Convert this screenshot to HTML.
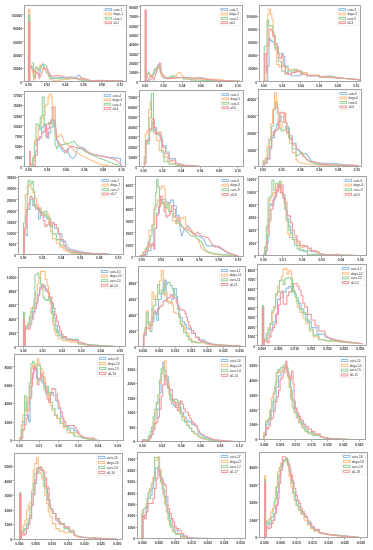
<!DOCTYPE html>
<html><head><meta charset="utf-8"><style>
html,body{margin:0;padding:0;background:#fff;}
svg{display:block;}
g.t{filter:grayscale(1)}
text.l{font-size:3.75px}
text{font-family:"Liberation Sans",sans-serif;font-weight:bold;font-size:3.30px;fill:#333;}
</style></head><body>
<svg width="373" height="550" viewBox="0 0 373 550">
<clipPath id="c1"><rect x="24.5" y="5.5" width="102.0" height="76.5"/></clipPath>
<g clip-path="url(#c1)"><polyline points="30.8,64.7 32.7,67.4 35.4,71.4 38.1,74.1 39.4,75.5 41.4,66.1 42.8,63.4 44.8,68.8 46.8,72.8 48.8,74.1 50.8,76.8 54.2,78.2 59.5,77.5 64.9,77.5 70.2,76.8 76.0,77.5" fill="none" stroke="#94bfe1" stroke-width="1.10" stroke-linejoin="miter"/><polyline points="76.0,77.5 77.2,76.5 78.8,74.9 80.5,76.5 82.1,79.8 86.1,80.2 94.1,80.6 110.2,80.9 123.1,81.0" fill="none" stroke="#94bfe1" stroke-width="1.10" stroke-linejoin="miter"/><polyline points="30.8,65.8 31.4,66.1 32.7,71.4 34.0,80.8 35.4,68.8 36.7,66.8 38.7,72.8 40.1,64.7 41.4,67.4 42.8,68.8 44.8,69.4 46.8,71.4 48.8,76.8 50.8,79.5 52.8,80.2 58.2,80.2 66.2,79.5 71.6,78.8 76.0,78.4" fill="none" stroke="#ffbf88" stroke-width="1.10" stroke-linejoin="miter"/><polyline points="76.0,78.4 76.4,78.6 79.7,79.3 86.1,79.0 90.9,80.6 102.2,80.6 123.1,81.0" fill="none" stroke="#ffbf88" stroke-width="1.10" stroke-linejoin="miter"/><rect x="27.9" y="8.8" width="2.4" height="72.7" fill="#ffbf88"/><polyline points="31.4,62.7 33.4,62.7 33.8,78.2 35.4,78.2 35.7,67.4 37.4,67.4 38.7,70.1 40.7,66.8 42.8,65.4 44.8,64.7 46.8,66.1 48.1,72.8 50.1,78.2 52.8,78.8 55.5,78.2 59.5,78.8 66.2,78.8 71.6,78.2 76.0,77.9" fill="none" stroke="#9ad29a" stroke-width="1.10" stroke-linejoin="miter"/><polyline points="76.0,77.9 79.7,80.1 86.1,80.2 92.5,80.6 102.2,80.2 123.1,81.0" fill="none" stroke="#9ad29a" stroke-width="1.10" stroke-linejoin="miter"/><rect x="27.9" y="14.7" width="2.4" height="66.8" fill="#9ad29a"/><polyline points="30.8,66.1 32.7,70.1 35.4,72.1 38.1,73.5 39.4,78.2 40.7,76.1 42.8,70.1 44.1,67.4 46.1,68.8 47.4,68.8 48.8,72.8 50.8,75.5 54.2,76.1 58.2,75.5 62.2,76.1 66.2,77.5 71.6,78.2 76.0,78.4" fill="none" stroke="#ef9a9c" stroke-width="1.10" stroke-linejoin="miter"/><polyline points="76.0,78.4 76.4,79.0 81.3,78.1 84.5,78.6 89.3,80.2 102.2,80.6 123.1,81.0" fill="none" stroke="#ef9a9c" stroke-width="1.10" stroke-linejoin="miter"/><rect x="27.9" y="22.0" width="2.4" height="59.5" fill="#ef9a9c"/></g>
<rect x="24.5" y="5.5" width="102.0" height="76.0" fill="none" stroke="#a3a3a3" stroke-width="1"/>
<line x1="28.5" y1="82.0" x2="28.5" y2="83.7" stroke="#b5b5b5" stroke-width="1"/>
<line x1="46.5" y1="82.0" x2="46.5" y2="83.7" stroke="#b5b5b5" stroke-width="1"/>
<line x1="65.5" y1="82.0" x2="65.5" y2="83.7" stroke="#b5b5b5" stroke-width="1"/>
<line x1="83.5" y1="82.0" x2="83.5" y2="83.7" stroke="#b5b5b5" stroke-width="1"/>
<line x1="101.5" y1="82.0" x2="101.5" y2="83.7" stroke="#b5b5b5" stroke-width="1"/>
<line x1="120.5" y1="82.0" x2="120.5" y2="83.7" stroke="#b5b5b5" stroke-width="1"/>
<line x1="22.3" y1="81.5" x2="24.0" y2="81.5" stroke="#b5b5b5" stroke-width="1"/>
<line x1="22.3" y1="68.5" x2="24.0" y2="68.5" stroke="#b5b5b5" stroke-width="1"/>
<line x1="22.3" y1="54.5" x2="24.0" y2="54.5" stroke="#b5b5b5" stroke-width="1"/>
<line x1="22.3" y1="41.5" x2="24.0" y2="41.5" stroke="#b5b5b5" stroke-width="1"/>
<line x1="22.3" y1="28.5" x2="24.0" y2="28.5" stroke="#b5b5b5" stroke-width="1"/>
<line x1="22.3" y1="14.5" x2="24.0" y2="14.5" stroke="#b5b5b5" stroke-width="1"/>
<rect x="103.3" y="6.7" width="21.2" height="18.8" rx="0.6" fill="#fff" fill-opacity="0.8" stroke="#e4e4e4" stroke-width="0.5"/>
<rect x="105.20" y="8.61" width="6.3" height="1.78" fill="none" stroke="#94bfe1" stroke-width="1"/>
<rect x="105.20" y="13.02" width="6.3" height="1.78" fill="none" stroke="#ffbf88" stroke-width="1"/>
<rect x="105.20" y="17.42" width="6.3" height="1.78" fill="none" stroke="#9ad29a" stroke-width="1"/>
<rect x="105.20" y="21.83" width="6.3" height="1.78" fill="none" stroke="#ef9a9c" stroke-width="1"/>
<clipPath id="c2"><rect x="140.5" y="5.5" width="102.0" height="76.5"/></clipPath>
<g clip-path="url(#c2)"><polyline points="146.8,80.7 150.6,79.7 152.7,76.4 154.9,72.2 157.0,67.9 158.1,64.7 159.7,65.7 160.8,73.2 163.4,78.1 167.7,78.1 173.1,77.0 178.5,77.5" fill="none" stroke="#94bfe1" stroke-width="1.10" stroke-linejoin="miter"/><polyline points="178.5,77.5 187.5,77.5 195.0,78.5 202.5,77.9 208.1,79.4 217.5,80.3 240.0,81.3" fill="none" stroke="#94bfe1" stroke-width="1.10" stroke-linejoin="miter"/><polyline points="146.8,76.4 148.4,72.2 150.0,74.3 151.7,78.6 153.3,74.3 154.9,68.9 157.0,70.0 158.6,65.7 160.2,71.1 161.8,76.4 163.4,77.5 166.7,78.6 171.0,78.6 174.2,77.5 177.4,74.3 179.0,72.2 180.6,73.2 182.0,74.8" fill="none" stroke="#ffbf88" stroke-width="1.10" stroke-linejoin="miter"/><polyline points="182.0,74.8 183.8,78.5 191.3,79.4 198.8,79.0 206.3,79.4 213.8,79.4 221.3,79.8 225.0,80.3 240.0,81.3" fill="none" stroke="#ffbf88" stroke-width="1.10" stroke-linejoin="miter"/><polyline points="146.8,78.6 148.4,72.2 150.0,74.3 151.7,76.4 153.3,73.2 154.9,68.9 156.5,67.9 158.1,65.7 159.2,66.8 160.8,72.2 162.4,74.3 164.5,76.4 166.7,77.5 169.9,77.0 172.6,75.4 174.2,76.4 177.4,78.1 182.0,77.5" fill="none" stroke="#9ad29a" stroke-width="1.10" stroke-linejoin="miter"/><polyline points="182.0,77.5 183.8,79.4 187.5,78.5 191.3,80.3 198.8,80.3 217.5,80.9 240.0,81.3" fill="none" stroke="#9ad29a" stroke-width="1.10" stroke-linejoin="miter"/><polyline points="146.8,80.7 148.4,79.7 150.6,75.4 152.2,76.4 153.8,80.2 155.4,75.4 157.0,70.0 158.6,66.8 159.7,63.0 160.8,63.6 161.3,72.2 162.9,75.4 164.5,76.4 166.7,78.1 168.8,78.6 172.0,78.1 175.2,78.1 178.5,77.5 182.0,77.5" fill="none" stroke="#ef9a9c" stroke-width="1.10" stroke-linejoin="miter"/><polyline points="182.0,77.5 185.6,77.5 191.3,78.5 196.9,77.5 202.5,78.5 208.1,79.4 217.5,80.3 240.0,81.3" fill="none" stroke="#ef9a9c" stroke-width="1.10" stroke-linejoin="miter"/><rect x="144.5" y="9.5" width="2.3" height="72.0" fill="#ef9a9c"/></g>
<rect x="140.5" y="5.5" width="102.0" height="76.0" fill="none" stroke="#a3a3a3" stroke-width="1"/>
<line x1="145.5" y1="82.0" x2="145.5" y2="83.7" stroke="#b5b5b5" stroke-width="1"/>
<line x1="163.5" y1="82.0" x2="163.5" y2="83.7" stroke="#b5b5b5" stroke-width="1"/>
<line x1="182.5" y1="82.0" x2="182.5" y2="83.7" stroke="#b5b5b5" stroke-width="1"/>
<line x1="200.5" y1="82.0" x2="200.5" y2="83.7" stroke="#b5b5b5" stroke-width="1"/>
<line x1="219.5" y1="82.0" x2="219.5" y2="83.7" stroke="#b5b5b5" stroke-width="1"/>
<line x1="237.5" y1="82.0" x2="237.5" y2="83.7" stroke="#b5b5b5" stroke-width="1"/>
<line x1="138.3" y1="81.5" x2="140.0" y2="81.5" stroke="#b5b5b5" stroke-width="1"/>
<line x1="138.3" y1="72.5" x2="140.0" y2="72.5" stroke="#b5b5b5" stroke-width="1"/>
<line x1="138.3" y1="62.5" x2="140.0" y2="62.5" stroke="#b5b5b5" stroke-width="1"/>
<line x1="138.3" y1="53.5" x2="140.0" y2="53.5" stroke="#b5b5b5" stroke-width="1"/>
<line x1="138.3" y1="44.5" x2="140.0" y2="44.5" stroke="#b5b5b5" stroke-width="1"/>
<line x1="138.3" y1="34.5" x2="140.0" y2="34.5" stroke="#b5b5b5" stroke-width="1"/>
<line x1="138.3" y1="25.5" x2="140.0" y2="25.5" stroke="#b5b5b5" stroke-width="1"/>
<line x1="138.3" y1="16.5" x2="140.0" y2="16.5" stroke="#b5b5b5" stroke-width="1"/>
<line x1="138.3" y1="6.5" x2="140.0" y2="6.5" stroke="#b5b5b5" stroke-width="1"/>
<rect x="219.3" y="6.7" width="21.2" height="18.8" rx="0.6" fill="#fff" fill-opacity="0.8" stroke="#e4e4e4" stroke-width="0.5"/>
<rect x="221.20" y="8.61" width="6.3" height="1.78" fill="none" stroke="#94bfe1" stroke-width="1"/>
<rect x="221.20" y="13.02" width="6.3" height="1.78" fill="none" stroke="#ffbf88" stroke-width="1"/>
<rect x="221.20" y="17.42" width="6.3" height="1.78" fill="none" stroke="#9ad29a" stroke-width="1"/>
<rect x="221.20" y="21.83" width="6.3" height="1.78" fill="none" stroke="#ef9a9c" stroke-width="1"/>
<clipPath id="c3"><rect x="259.5" y="5.5" width="101.0" height="76.5"/></clipPath>
<g clip-path="url(#c3)"><polyline points="265.4,81.5 265.4,80.6 267.8,80.6 267.8,66.1 269.0,66.1 269.0,38.8 270.3,38.8 270.3,40.4 271.9,40.4 271.9,42.0 275.1,42.0 275.1,46.8 278.3,46.8 278.3,53.3 283.1,53.3 283.1,56.5 284.7,56.5 284.7,66.1 288.0,66.1 288.0,74.2 291.2,74.2 291.2,75.8 296.0,75.8 296.0,75.8 300.8,75.8 300.8,74.2 307.3,74.2 307.3,75.8 319.0,75.8 319.0,76.9" fill="none" stroke="#94bfe1" stroke-width="1.10" stroke-linejoin="miter"/><polyline points="319.0,76.9 330.0,77.2 337.5,77.9 345.0,78.5 361.9,80.0" fill="none" stroke="#94bfe1" stroke-width="1.10" stroke-linejoin="miter"/><polyline points="264.3,81.5 264.3,80.6 266.2,80.6 266.2,53.3 267.8,53.3 267.8,13.8 269.0,13.8 269.0,9.0 270.6,9.0 270.6,14.7 271.9,14.7 271.9,19.5 273.2,19.5 273.2,37.2 275.1,37.2 275.1,50.0 276.7,50.0 276.7,64.5 279.1,64.5 279.1,66.9 281.5,66.9 281.5,66.1 284.7,66.1 284.7,67.7 288.0,67.7 288.0,69.3 294.4,69.3 294.4,70.9 300.8,70.9 300.8,72.6 307.3,72.6 307.3,75.0 319.0,75.0 319.0,76.6" fill="none" stroke="#ffbf88" stroke-width="1.10" stroke-linejoin="miter"/><polyline points="319.0,76.6 322.5,77.0 330.0,77.2 337.5,77.9 345.0,78.5 361.9,80.0" fill="none" stroke="#ffbf88" stroke-width="1.10" stroke-linejoin="miter"/><polyline points="264.3,81.5 264.3,46.0 267.0,46.0 267.0,20.3 268.7,20.3 268.7,25.9 271.9,25.9 271.9,25.9 272.7,25.9 272.7,33.1 274.3,33.1 274.3,45.2 275.9,45.2 275.9,48.4 278.3,48.4 278.3,61.3 281.5,61.3 281.5,70.9 284.7,70.9 284.7,74.2 288.0,74.2 288.0,70.9 294.4,70.9 294.4,69.3 297.6,69.3 297.6,71.8 302.4,71.8 302.4,74.2 307.3,74.2 307.3,75.8 319.0,75.8 319.0,76.9" fill="none" stroke="#9ad29a" stroke-width="1.10" stroke-linejoin="miter"/><polyline points="319.0,76.9 330.0,75.7 337.5,77.5 345.0,78.5 361.9,80.0" fill="none" stroke="#9ad29a" stroke-width="1.10" stroke-linejoin="miter"/><polyline points="264.3,81.5 264.3,54.1 266.2,54.1 266.2,72.6 267.0,72.6 267.0,45.2 269.0,45.2 269.0,29.1 271.1,29.1 271.1,30.7 272.7,30.7 272.7,35.6 275.1,35.6 275.1,43.6 277.5,43.6 277.5,53.3 279.1,53.3 279.1,58.1 281.5,58.1 281.5,54.9 283.1,54.9 283.1,66.1 285.5,66.1 285.5,72.6 288.0,72.6 288.0,74.2 291.2,74.2 291.2,72.6 296.0,72.6 296.0,70.9 300.8,70.9 300.8,74.2 307.3,74.2 307.3,75.8 319.0,75.8 319.0,77.1" fill="none" stroke="#ef9a9c" stroke-width="1.10" stroke-linejoin="miter"/><polyline points="319.0,77.1 322.5,76.6 330.0,77.2 337.5,77.9 345.0,78.5 361.9,80.0" fill="none" stroke="#ef9a9c" stroke-width="1.10" stroke-linejoin="miter"/></g>
<rect x="259.5" y="5.5" width="101.0" height="76.0" fill="none" stroke="#a3a3a3" stroke-width="1"/>
<line x1="263.5" y1="82.0" x2="263.5" y2="83.7" stroke="#b5b5b5" stroke-width="1"/>
<line x1="282.5" y1="82.0" x2="282.5" y2="83.7" stroke="#b5b5b5" stroke-width="1"/>
<line x1="300.5" y1="82.0" x2="300.5" y2="83.7" stroke="#b5b5b5" stroke-width="1"/>
<line x1="319.5" y1="82.0" x2="319.5" y2="83.7" stroke="#b5b5b5" stroke-width="1"/>
<line x1="337.5" y1="82.0" x2="337.5" y2="83.7" stroke="#b5b5b5" stroke-width="1"/>
<line x1="356.5" y1="82.0" x2="356.5" y2="83.7" stroke="#b5b5b5" stroke-width="1"/>
<line x1="257.3" y1="81.5" x2="259.0" y2="81.5" stroke="#b5b5b5" stroke-width="1"/>
<line x1="257.3" y1="68.5" x2="259.0" y2="68.5" stroke="#b5b5b5" stroke-width="1"/>
<line x1="257.3" y1="55.5" x2="259.0" y2="55.5" stroke="#b5b5b5" stroke-width="1"/>
<line x1="257.3" y1="42.5" x2="259.0" y2="42.5" stroke="#b5b5b5" stroke-width="1"/>
<line x1="257.3" y1="29.5" x2="259.0" y2="29.5" stroke="#b5b5b5" stroke-width="1"/>
<line x1="257.3" y1="16.5" x2="259.0" y2="16.5" stroke="#b5b5b5" stroke-width="1"/>
<rect x="337.3" y="6.7" width="21.2" height="18.8" rx="0.6" fill="#fff" fill-opacity="0.8" stroke="#e4e4e4" stroke-width="0.5"/>
<rect x="339.20" y="8.61" width="6.3" height="1.78" fill="none" stroke="#94bfe1" stroke-width="1"/>
<rect x="339.20" y="13.02" width="6.3" height="1.78" fill="none" stroke="#ffbf88" stroke-width="1"/>
<rect x="339.20" y="17.42" width="6.3" height="1.78" fill="none" stroke="#9ad29a" stroke-width="1"/>
<rect x="339.20" y="21.83" width="6.3" height="1.78" fill="none" stroke="#ef9a9c" stroke-width="1"/>
<clipPath id="c4"><rect x="24.5" y="91.5" width="101.0" height="75.5"/></clipPath>
<g clip-path="url(#c4)"><polyline points="31.7,166.5 31.7,166.6 33.1,166.6 33.1,160.9 35.2,160.9 35.2,151.0 37.3,151.0 37.3,139.6 39.5,139.6 39.5,136.8 41.6,136.8 41.6,126.9 43.7,126.9 43.7,124.0 45.9,124.0 45.9,136.8 47.3,136.8 47.3,138.2 48.7,138.2 48.7,132.6 50.8,132.6 50.8,126.9 53.0,126.9 53.0,119.8 54.4,119.8 54.4,126.9" fill="none" stroke="#94bfe1" stroke-width="1.10" stroke-linejoin="miter"/><polyline points="54.4,126.9 55.0,125.8 56.9,141.2 58.9,145.1 62.7,150.9 64.7,152.8 67.5,149.0 69.5,155.7 72.4,158.6 75.3,156.7 77.2,149.0 80.1,147.0 84.0,148.0 87.8,151.9 93.6,154.7 101.3,155.7 109.1,157.6 114.8,157.6 120.6,158.6 121.0,166.5" fill="none" stroke="#94bfe1" stroke-width="1.10" stroke-linejoin="miter"/><polyline points="31.0,166.5 31.0,163.8 33.1,163.8 33.1,156.7 34.5,156.7 34.5,141.1 36.6,141.1 36.6,138.2 38.1,138.2 38.1,126.9 40.2,126.9 40.2,124.0 41.6,124.0 41.6,118.4 43.7,118.4 43.7,114.8 45.1,114.8 45.1,105.6 46.6,105.6 46.6,104.2 48.0,104.2 48.0,97.1 49.4,97.1 49.4,94.3 51.5,94.3 51.5,97.1 52.2,97.1 52.2,108.4 53.7,108.4 53.7,122.6 55.1,122.6 55.1,132.6" fill="none" stroke="#ffbf88" stroke-width="1.10" stroke-linejoin="miter"/><polyline points="55.1,132.6 57.9,137.4 59.8,134.5 61.8,134.5 63.7,141.2 66.6,144.1 70.4,146.1 74.3,150.9 80.1,154.7 85.9,157.6 93.6,161.5 101.3,164.4 109.1,165.9 120.6,166.5" fill="none" stroke="#ffbf88" stroke-width="1.10" stroke-linejoin="miter"/><polyline points="30.3,166.5 30.3,165.2 32.4,165.2 32.4,158.1 34.5,158.1 34.5,145.3 35.9,145.3 35.9,124.0 38.1,124.0 38.1,125.5 39.5,125.5 39.5,129.7 40.2,129.7 40.2,117.0 41.6,117.0 41.6,115.5 42.3,115.5 42.3,97.1 44.2,97.1 44.2,125.5 46.6,125.5 46.6,124.0 48.7,124.0 48.7,122.6 50.1,122.6 50.1,124.0 51.5,124.0 51.5,120.5 53.7,120.5 53.7,126.9 55.1,126.9 55.1,143.9" fill="none" stroke="#9ad29a" stroke-width="1.10" stroke-linejoin="miter"/><polyline points="55.1,143.9 56.9,149.0 58.9,143.2 60.8,145.1 64.7,144.1 68.5,143.2 72.4,142.2 74.3,141.2 76.2,144.1 80.1,148.0 85.9,151.9 93.6,155.7 103.3,159.6 112.9,163.4 120.6,166.3" fill="none" stroke="#9ad29a" stroke-width="1.10" stroke-linejoin="miter"/><polyline points="31.0,166.5 31.0,166.6 33.1,166.6 33.1,165.2 35.2,165.2 35.2,155.2 37.3,155.2 37.3,139.6 39.5,139.6 39.5,138.2 41.6,138.2 41.6,132.6 43.7,132.6 43.7,131.1 45.1,131.1 45.1,125.5 46.6,125.5 46.6,136.8 48.0,136.8 48.0,128.3 49.4,128.3 49.4,124.0 50.8,124.0 50.8,119.8 52.2,119.8 52.2,107.0 53.7,107.0 53.7,107.0 55.1,107.0 55.1,118.4" fill="none" stroke="#ef9a9c" stroke-width="1.10" stroke-linejoin="miter"/><polyline points="55.1,118.4 56.9,139.3 60.8,145.1 64.7,150.9 66.6,152.8 68.5,149.0 70.4,146.1 74.3,147.0 78.2,148.0 82.0,148.0 85.9,150.9 91.7,153.8 99.4,155.7 109.1,157.6 116.8,160.5 120.6,164.4 121.0,166.3" fill="none" stroke="#ef9a9c" stroke-width="1.10" stroke-linejoin="miter"/><rect x="29.1" y="151.0" width="1.8" height="15.5" fill="#ef9a9c"/></g>
<rect x="24.5" y="91.5" width="101.0" height="75.0" fill="none" stroke="#a3a3a3" stroke-width="1"/>
<line x1="28.5" y1="167.0" x2="28.5" y2="168.7" stroke="#b5b5b5" stroke-width="1"/>
<line x1="47.5" y1="167.0" x2="47.5" y2="168.7" stroke="#b5b5b5" stroke-width="1"/>
<line x1="65.5" y1="167.0" x2="65.5" y2="168.7" stroke="#b5b5b5" stroke-width="1"/>
<line x1="84.5" y1="167.0" x2="84.5" y2="168.7" stroke="#b5b5b5" stroke-width="1"/>
<line x1="103.5" y1="167.0" x2="103.5" y2="168.7" stroke="#b5b5b5" stroke-width="1"/>
<line x1="121.5" y1="167.0" x2="121.5" y2="168.7" stroke="#b5b5b5" stroke-width="1"/>
<line x1="22.3" y1="166.5" x2="24.0" y2="166.5" stroke="#b5b5b5" stroke-width="1"/>
<line x1="22.3" y1="156.5" x2="24.0" y2="156.5" stroke="#b5b5b5" stroke-width="1"/>
<line x1="22.3" y1="146.5" x2="24.0" y2="146.5" stroke="#b5b5b5" stroke-width="1"/>
<line x1="22.3" y1="135.5" x2="24.0" y2="135.5" stroke="#b5b5b5" stroke-width="1"/>
<line x1="22.3" y1="125.5" x2="24.0" y2="125.5" stroke="#b5b5b5" stroke-width="1"/>
<line x1="22.3" y1="115.5" x2="24.0" y2="115.5" stroke="#b5b5b5" stroke-width="1"/>
<line x1="22.3" y1="105.5" x2="24.0" y2="105.5" stroke="#b5b5b5" stroke-width="1"/>
<line x1="22.3" y1="94.5" x2="24.0" y2="94.5" stroke="#b5b5b5" stroke-width="1"/>
<rect x="102.3" y="92.7" width="21.2" height="18.6" rx="0.6" fill="#fff" fill-opacity="0.8" stroke="#e4e4e4" stroke-width="0.5"/>
<rect x="104.20" y="94.62" width="6.3" height="1.75" fill="none" stroke="#94bfe1" stroke-width="1"/>
<rect x="104.20" y="98.97" width="6.3" height="1.75" fill="none" stroke="#ffbf88" stroke-width="1"/>
<rect x="104.20" y="103.33" width="6.3" height="1.75" fill="none" stroke="#9ad29a" stroke-width="1"/>
<rect x="104.20" y="107.67" width="6.3" height="1.75" fill="none" stroke="#ef9a9c" stroke-width="1"/>
<clipPath id="c5"><rect x="139.5" y="90.5" width="104.0" height="76.5"/></clipPath>
<g clip-path="url(#c5)"><polyline points="144.5,166.5 144.5,163.5 145.8,163.5 145.8,142.2 147.8,142.2 147.8,138.9 149.4,138.9 149.4,130.8 151.9,130.8 151.9,122.6 154.3,122.6 154.3,129.1 156.8,129.1 156.8,134.0 160.1,134.0 160.1,138.9 162.5,138.9 162.5,145.5 165.8,145.5 165.8,152.0 169.0,152.0 169.0,158.6 175.6,158.6 175.6,162.7" fill="none" stroke="#94bfe1" stroke-width="1.10" stroke-linejoin="miter"/><polyline points="175.6,162.7 184.1,165.1 201.0,166.6" fill="none" stroke="#94bfe1" stroke-width="1.10" stroke-linejoin="miter"/><polyline points="144.5,166.5 144.5,163.5 145.3,163.5 145.3,134.0 147.0,134.0 147.0,130.8 148.6,130.8 148.6,109.5 150.2,109.5 150.2,101.3 151.4,101.3 151.4,117.7 153.5,117.7 153.5,132.4 156.8,132.4 156.8,140.6 159.2,140.6 159.2,150.4 163.3,150.4 163.3,156.9 167.4,156.9 167.4,161.8 172.3,161.8 172.3,163.5 178.9,163.5 178.9,164.3" fill="none" stroke="#ffbf88" stroke-width="1.10" stroke-linejoin="miter"/><polyline points="178.9,164.3 184.1,165.6 201.0,166.6" fill="none" stroke="#ffbf88" stroke-width="1.10" stroke-linejoin="miter"/><polyline points="144.2,166.5 144.2,156.9 145.8,156.9 145.8,140.6 147.0,140.6 147.0,143.9 149.1,143.9 149.1,117.7 151.4,117.7 151.4,93.2 153.5,93.2 153.5,130.8 155.1,130.8 155.1,134.0 159.2,134.0 159.2,135.7 161.7,135.7 161.7,152.0 164.1,152.0 164.1,161.8 169.0,161.8 169.0,164.3 175.6,164.3 175.6,165.1" fill="none" stroke="#9ad29a" stroke-width="1.10" stroke-linejoin="miter"/><polyline points="175.6,165.1 184.1,165.8 201.0,166.6" fill="none" stroke="#9ad29a" stroke-width="1.10" stroke-linejoin="miter"/><polyline points="144.5,166.5 144.5,163.5 145.8,163.5 145.8,140.6 147.8,140.6 147.8,140.6 149.4,140.6 149.4,129.1 151.9,129.1 151.9,119.3 154.3,119.3 154.3,127.5 156.0,127.5 156.0,134.0 158.4,134.0 158.4,132.4 160.9,132.4 160.9,140.6 162.5,140.6 162.5,147.1 165.8,147.1 165.8,153.7 169.0,153.7 169.0,160.2 175.6,160.2 175.6,163.5" fill="none" stroke="#ef9a9c" stroke-width="1.10" stroke-linejoin="miter"/><polyline points="175.6,163.5 184.1,165.4 201.0,166.6" fill="none" stroke="#ef9a9c" stroke-width="1.10" stroke-linejoin="miter"/></g>
<rect x="139.5" y="90.5" width="104.0" height="76.0" fill="none" stroke="#a3a3a3" stroke-width="1"/>
<line x1="143.5" y1="167.0" x2="143.5" y2="168.7" stroke="#b5b5b5" stroke-width="1"/>
<line x1="162.5" y1="167.0" x2="162.5" y2="168.7" stroke="#b5b5b5" stroke-width="1"/>
<line x1="181.5" y1="167.0" x2="181.5" y2="168.7" stroke="#b5b5b5" stroke-width="1"/>
<line x1="200.5" y1="167.0" x2="200.5" y2="168.7" stroke="#b5b5b5" stroke-width="1"/>
<line x1="219.5" y1="167.0" x2="219.5" y2="168.7" stroke="#b5b5b5" stroke-width="1"/>
<line x1="237.5" y1="167.0" x2="237.5" y2="168.7" stroke="#b5b5b5" stroke-width="1"/>
<line x1="137.3" y1="166.5" x2="139.0" y2="166.5" stroke="#b5b5b5" stroke-width="1"/>
<line x1="137.3" y1="156.5" x2="139.0" y2="156.5" stroke="#b5b5b5" stroke-width="1"/>
<line x1="137.3" y1="146.5" x2="139.0" y2="146.5" stroke="#b5b5b5" stroke-width="1"/>
<line x1="137.3" y1="136.5" x2="139.0" y2="136.5" stroke="#b5b5b5" stroke-width="1"/>
<line x1="137.3" y1="126.5" x2="139.0" y2="126.5" stroke="#b5b5b5" stroke-width="1"/>
<line x1="137.3" y1="116.5" x2="139.0" y2="116.5" stroke="#b5b5b5" stroke-width="1"/>
<line x1="137.3" y1="106.5" x2="139.0" y2="106.5" stroke="#b5b5b5" stroke-width="1"/>
<line x1="137.3" y1="96.5" x2="139.0" y2="96.5" stroke="#b5b5b5" stroke-width="1"/>
<rect x="220.3" y="91.7" width="21.2" height="18.8" rx="0.6" fill="#fff" fill-opacity="0.8" stroke="#e4e4e4" stroke-width="0.5"/>
<rect x="222.20" y="93.61" width="6.3" height="1.78" fill="none" stroke="#94bfe1" stroke-width="1"/>
<rect x="222.20" y="98.02" width="6.3" height="1.78" fill="none" stroke="#ffbf88" stroke-width="1"/>
<rect x="222.20" y="102.42" width="6.3" height="1.78" fill="none" stroke="#9ad29a" stroke-width="1"/>
<rect x="222.20" y="106.83" width="6.3" height="1.78" fill="none" stroke="#ef9a9c" stroke-width="1"/>
<clipPath id="c6"><rect x="258.5" y="89.5" width="103.0" height="77.5"/></clipPath>
<g clip-path="url(#c6)"><polyline points="264.1,166.5 264.1,162.9 267.0,162.9 267.0,159.1 269.8,159.1 269.8,148.8 271.7,148.8 271.7,137.5 274.5,137.5 274.5,130.0 276.3,130.0 276.3,124.4 278.2,124.4 278.2,120.7 281.0,120.7 281.0,116.9 283.9,116.9 283.9,122.5 286.7,122.5 286.7,128.2 289.5,128.2 289.5,135.7 292.3,135.7 292.3,143.2 296.0,143.2 296.0,145.0" fill="none" stroke="#94bfe1" stroke-width="1.10" stroke-linejoin="miter"/><polyline points="296.0,145.0 296.4,149.3 302.9,153.2 306.1,153.6 311.4,161.1 317.9,163.3 332.9,163.3 345.8,164.8 358.6,165.6" fill="none" stroke="#94bfe1" stroke-width="1.10" stroke-linejoin="miter"/><polyline points="263.2,166.5 263.2,161.0 265.1,161.0 265.1,158.2 267.0,158.2 267.0,146.9 268.8,146.9 268.8,139.4 270.7,139.4 270.7,123.5 272.6,123.5 272.6,109.4 274.5,109.4 274.5,92.5 276.3,92.5 276.3,107.5 278.2,107.5 278.2,124.4 280.1,124.4 280.1,128.2 282.0,128.2 282.0,121.6 283.9,121.6 283.9,113.1 285.2,113.1 285.2,122.5 286.7,122.5 286.7,133.8 289.5,133.8 289.5,143.2 292.3,143.2 292.3,152.6 296.0,152.6 296.0,160.1" fill="none" stroke="#ffbf88" stroke-width="1.10" stroke-linejoin="miter"/><polyline points="296.0,160.1 296.4,159.0 298.6,162.2 302.9,163.3 311.4,164.8 322.2,165.2 358.6,165.6" fill="none" stroke="#ffbf88" stroke-width="1.10" stroke-linejoin="miter"/><polyline points="263.2,166.5 263.2,161.0 266.0,161.0 266.0,158.2 267.9,158.2 267.9,148.8 269.8,148.8 269.8,139.4 271.7,139.4 271.7,126.3 273.5,126.3 273.5,109.4 275.4,109.4 275.4,101.9 277.3,101.9 277.3,113.1 279.2,113.1 279.2,128.2 281.0,128.2 281.0,131.0 282.9,131.0 282.9,130.0 285.7,130.0 285.7,126.3 288.5,126.3 288.5,137.5 292.3,137.5 292.3,148.8 296.0,148.8 296.0,156.3" fill="none" stroke="#9ad29a" stroke-width="1.10" stroke-linejoin="miter"/><polyline points="296.0,156.3 298.6,154.7 301.8,152.6 306.1,159.0 310.4,162.2 317.9,164.4 328.6,164.8 358.6,165.6" fill="none" stroke="#9ad29a" stroke-width="1.10" stroke-linejoin="miter"/><polyline points="264.1,166.5 264.1,162.9 267.0,162.9 267.0,158.2 269.8,158.2 269.8,146.9 271.7,146.9 271.7,135.7 273.5,135.7 273.5,131.9 275.4,131.9 275.4,130.0 278.2,130.0 278.2,122.5 280.1,122.5 280.1,112.2 282.0,112.2 282.0,113.1 284.4,113.1 284.4,114.1 285.7,114.1 285.7,122.5 286.7,122.5 286.7,131.9 289.5,131.9 289.5,139.4 292.3,139.4 292.3,145.0 296.0,145.0 296.0,148.8" fill="none" stroke="#ef9a9c" stroke-width="1.10" stroke-linejoin="miter"/><polyline points="296.0,148.8 298.6,149.3 302.9,155.8 309.3,161.1 315.7,162.2 322.2,163.9 332.9,164.8 358.6,165.6" fill="none" stroke="#ef9a9c" stroke-width="1.10" stroke-linejoin="miter"/></g>
<rect x="258.5" y="89.5" width="103.0" height="77.0" fill="none" stroke="#a3a3a3" stroke-width="1"/>
<line x1="262.5" y1="167.0" x2="262.5" y2="168.7" stroke="#b5b5b5" stroke-width="1"/>
<line x1="281.5" y1="167.0" x2="281.5" y2="168.7" stroke="#b5b5b5" stroke-width="1"/>
<line x1="300.5" y1="167.0" x2="300.5" y2="168.7" stroke="#b5b5b5" stroke-width="1"/>
<line x1="319.5" y1="167.0" x2="319.5" y2="168.7" stroke="#b5b5b5" stroke-width="1"/>
<line x1="338.5" y1="167.0" x2="338.5" y2="168.7" stroke="#b5b5b5" stroke-width="1"/>
<line x1="356.5" y1="167.0" x2="356.5" y2="168.7" stroke="#b5b5b5" stroke-width="1"/>
<line x1="256.3" y1="166.5" x2="258.0" y2="166.5" stroke="#b5b5b5" stroke-width="1"/>
<line x1="256.3" y1="149.5" x2="258.0" y2="149.5" stroke="#b5b5b5" stroke-width="1"/>
<line x1="256.3" y1="132.5" x2="258.0" y2="132.5" stroke="#b5b5b5" stroke-width="1"/>
<line x1="256.3" y1="115.5" x2="258.0" y2="115.5" stroke="#b5b5b5" stroke-width="1"/>
<line x1="256.3" y1="98.5" x2="258.0" y2="98.5" stroke="#b5b5b5" stroke-width="1"/>
<rect x="338.3" y="90.7" width="21.2" height="19.0" rx="0.6" fill="#fff" fill-opacity="0.8" stroke="#e4e4e4" stroke-width="0.5"/>
<rect x="340.20" y="92.59" width="6.3" height="1.82" fill="none" stroke="#94bfe1" stroke-width="1"/>
<rect x="340.20" y="97.06" width="6.3" height="1.82" fill="none" stroke="#ffbf88" stroke-width="1"/>
<rect x="340.20" y="101.52" width="6.3" height="1.82" fill="none" stroke="#9ad29a" stroke-width="1"/>
<rect x="340.20" y="105.99" width="6.3" height="1.82" fill="none" stroke="#ef9a9c" stroke-width="1"/>
<clipPath id="c7"><rect x="18.5" y="176.5" width="105.0" height="78.5"/></clipPath>
<g clip-path="url(#c7)"><polyline points="23.5,254.5 23.5,234.9 26.3,234.9 26.3,235.8 27.2,235.8 27.2,209.5 30.0,209.5 30.0,199.2 32.8,199.2 32.8,205.8 35.7,205.8 35.7,209.5 38.5,209.5 38.5,218.9 40.3,218.9 40.3,212.3 43.2,212.3 43.2,217.0 46.9,217.0 46.9,218.9 50.7,218.9 50.7,222.7 54.4,222.7 54.4,228.3 58.2,228.3 58.2,233.9 61.9,233.9 61.9,241.4 65.7,241.4 65.7,243.3" fill="none" stroke="#94bfe1" stroke-width="1.10" stroke-linejoin="miter"/><polyline points="65.7,243.3 69.3,248.8 75.7,250.5 84.3,252.4 92.9,253.5 108.3,254.1" fill="none" stroke="#94bfe1" stroke-width="1.10" stroke-linejoin="miter"/><polyline points="23.5,254.5 23.5,233.9 25.3,233.9 25.3,194.5 27.2,194.5 27.2,186.1 29.1,186.1 29.1,184.2 31.0,184.2 31.0,188.9 32.8,188.9 32.8,192.6 34.7,192.6 34.7,198.3 36.6,198.3 36.6,204.8 38.5,204.8 38.5,207.7 41.3,207.7 41.3,212.3 44.1,212.3 44.1,215.2 46.9,215.2 46.9,214.2 48.8,214.2 48.8,220.8 50.7,220.8 50.7,232.0 52.5,232.0 52.5,238.6 56.3,238.6 56.3,243.3 60.0,243.3 60.0,247.1 63.8,247.1 63.8,249.9" fill="none" stroke="#ffbf88" stroke-width="1.10" stroke-linejoin="miter"/><polyline points="63.8,249.9 71.4,253.1 92.9,254.1 108.3,254.4" fill="none" stroke="#ffbf88" stroke-width="1.10" stroke-linejoin="miter"/><polyline points="23.5,254.5 23.5,222.7 25.3,222.7 25.3,215.2 27.2,215.2 27.2,194.5 28.1,194.5 28.1,180.4 30.0,180.4 30.0,183.3 31.9,183.3 31.9,181.4 33.4,181.4 33.4,190.8 34.7,190.8 34.7,206.7 37.5,206.7 37.5,208.6 40.3,208.6 40.3,212.3 43.2,212.3 43.2,215.2 45.0,215.2 45.0,211.4 46.9,211.4 46.9,217.0 49.7,217.0 49.7,226.4 52.5,226.4 52.5,233.9 56.3,233.9 56.3,239.6 60.0,239.6 60.0,245.2 65.7,245.2 65.7,248.9" fill="none" stroke="#9ad29a" stroke-width="1.10" stroke-linejoin="miter"/><polyline points="65.7,248.9 71.4,252.4 92.9,253.9 108.3,254.4" fill="none" stroke="#9ad29a" stroke-width="1.10" stroke-linejoin="miter"/><polyline points="24.4,254.5 24.4,228.3 26.3,228.3 26.3,209.5 28.1,209.5 28.1,203.9 30.0,203.9 30.0,196.4 31.9,196.4 31.9,198.3 33.8,198.3 33.8,204.8 35.7,204.8 35.7,207.7 37.5,207.7 37.5,209.5 39.4,209.5 39.4,211.4 41.3,211.4 41.3,215.2 43.2,215.2 43.2,220.8 45.0,220.8 45.0,226.4 46.9,226.4 46.9,224.5 48.8,224.5 48.8,221.7 50.7,221.7 50.7,225.5 52.5,225.5 52.5,222.7 54.4,222.7 54.4,224.5 56.3,224.5 56.3,228.3 58.2,228.3 58.2,233.9 60.0,233.9 60.0,239.6 63.8,239.6 63.8,245.2" fill="none" stroke="#ef9a9c" stroke-width="1.10" stroke-linejoin="miter"/><polyline points="63.8,245.2 67.2,249.2 71.4,250.9 80.0,252.4 92.9,253.5 108.3,254.1" fill="none" stroke="#ef9a9c" stroke-width="1.10" stroke-linejoin="miter"/><rect x="23.2" y="234.9" width="1.4" height="19.6" fill="#ef9a9c"/></g>
<rect x="18.5" y="176.5" width="105.0" height="78.0" fill="none" stroke="#a3a3a3" stroke-width="1"/>
<line x1="23.5" y1="255.0" x2="23.5" y2="256.7" stroke="#b5b5b5" stroke-width="1"/>
<line x1="42.5" y1="255.0" x2="42.5" y2="256.7" stroke="#b5b5b5" stroke-width="1"/>
<line x1="61.5" y1="255.0" x2="61.5" y2="256.7" stroke="#b5b5b5" stroke-width="1"/>
<line x1="80.5" y1="255.0" x2="80.5" y2="256.7" stroke="#b5b5b5" stroke-width="1"/>
<line x1="99.5" y1="255.0" x2="99.5" y2="256.7" stroke="#b5b5b5" stroke-width="1"/>
<line x1="118.5" y1="255.0" x2="118.5" y2="256.7" stroke="#b5b5b5" stroke-width="1"/>
<line x1="16.3" y1="254.5" x2="18.0" y2="254.5" stroke="#b5b5b5" stroke-width="1"/>
<line x1="16.3" y1="243.5" x2="18.0" y2="243.5" stroke="#b5b5b5" stroke-width="1"/>
<line x1="16.3" y1="232.5" x2="18.0" y2="232.5" stroke="#b5b5b5" stroke-width="1"/>
<line x1="16.3" y1="221.5" x2="18.0" y2="221.5" stroke="#b5b5b5" stroke-width="1"/>
<line x1="16.3" y1="210.5" x2="18.0" y2="210.5" stroke="#b5b5b5" stroke-width="1"/>
<line x1="16.3" y1="199.5" x2="18.0" y2="199.5" stroke="#b5b5b5" stroke-width="1"/>
<line x1="16.3" y1="188.5" x2="18.0" y2="188.5" stroke="#b5b5b5" stroke-width="1"/>
<line x1="16.3" y1="177.5" x2="18.0" y2="177.5" stroke="#b5b5b5" stroke-width="1"/>
<rect x="100.3" y="177.7" width="21.2" height="19.2" rx="0.6" fill="#fff" fill-opacity="0.8" stroke="#e4e4e4" stroke-width="0.5"/>
<rect x="102.20" y="179.57" width="6.3" height="1.85" fill="none" stroke="#94bfe1" stroke-width="1"/>
<rect x="102.20" y="184.10" width="6.3" height="1.85" fill="none" stroke="#ffbf88" stroke-width="1"/>
<rect x="102.20" y="188.62" width="6.3" height="1.85" fill="none" stroke="#9ad29a" stroke-width="1"/>
<rect x="102.20" y="193.15" width="6.3" height="1.85" fill="none" stroke="#ef9a9c" stroke-width="1"/>
<clipPath id="c8"><rect x="135.5" y="176.5" width="108.0" height="80.5"/></clipPath>
<g clip-path="url(#c8)"><polyline points="143.5,256.5 143.5,254.6 147.3,254.6 147.3,250.8 151.0,250.8 151.0,245.2 153.8,245.2 153.8,228.3 156.6,228.3 156.6,213.3 159.5,213.3 159.5,200.1 162.3,200.1 162.3,199.2 166.0,199.2 166.0,202.0 168.8,202.0 168.8,203.0 170.7,203.0 170.7,200.1 173.5,200.1 173.5,205.8 176.3,205.8 176.3,215.2 179.2,215.2 179.2,219.9" fill="none" stroke="#94bfe1" stroke-width="1.10" stroke-linejoin="miter"/><polyline points="179.2,219.9 180.0,228.3 181.9,235.8 183.8,230.2 187.5,225.5 190.3,228.3 193.1,233.9 196.9,235.8 200.6,236.7 204.4,239.6 206.3,245.2 210.0,246.1 213.8,245.2 217.5,247.1 221.3,248.9 226.9,252.7 232.5,254.6 238.2,255.9" fill="none" stroke="#94bfe1" stroke-width="1.10" stroke-linejoin="miter"/><polyline points="140.7,256.5 140.7,255.5 143.5,255.5 143.5,251.8 146.3,251.8 146.3,247.1 149.1,247.1 149.1,230.2 152.0,230.2 152.0,224.5 154.8,224.5 154.8,205.8 157.6,205.8 157.6,200.1 159.5,200.1 159.5,188.9 161.3,188.9 161.3,186.1 164.1,186.1 164.1,188.9 165.1,188.9 165.1,209.5 167.0,209.5 167.0,203.9 169.8,203.9 169.8,213.3 172.6,213.3 172.6,220.8 175.4,220.8 175.4,223.6 177.3,223.6 177.3,219.9 180.1,219.9 180.1,217.0" fill="none" stroke="#ffbf88" stroke-width="1.10" stroke-linejoin="miter"/><polyline points="180.1,217.0 182.8,218.9 183.8,217.0 185.6,217.0 186.0,226.4 189.4,228.3 193.1,232.0 196.9,238.6 199.7,243.3 201.6,248.9 206.3,251.8 211.9,253.6 217.5,254.6 236.3,255.5" fill="none" stroke="#ffbf88" stroke-width="1.10" stroke-linejoin="miter"/><polyline points="139.8,256.5 139.8,255.5 142.6,255.5 142.6,252.7 145.4,252.7 145.4,248.9 148.2,248.9 148.2,241.4 150.1,241.4 150.1,235.8 152.0,235.8 152.0,226.4 153.8,226.4 153.8,209.5 155.7,209.5 155.7,192.6 156.6,192.6 156.6,179.5 158.1,179.5 158.1,187.0 159.5,187.0 159.5,200.1 161.3,200.1 161.3,203.9 163.2,203.9 163.2,203.0 165.1,203.0 165.1,207.7 167.0,207.7 167.0,203.9 168.8,203.9 168.8,211.4 170.7,211.4 170.7,211.4 173.5,211.4 173.5,217.0 176.3,217.0 176.3,222.7 179.2,222.7 179.2,224.5" fill="none" stroke="#9ad29a" stroke-width="1.10" stroke-linejoin="miter"/><polyline points="179.2,224.5 180.0,224.5 183.8,228.3 187.5,232.0 191.3,235.8 195.0,236.7 198.8,239.6 202.5,243.3 204.4,248.9 208.1,251.8 213.8,253.6 221.3,254.6 236.3,255.5" fill="none" stroke="#9ad29a" stroke-width="1.10" stroke-linejoin="miter"/><polyline points="141.6,256.5 141.6,255.5 145.4,255.5 145.4,250.8 148.2,250.8 148.2,243.3 150.1,243.3 150.1,246.1 152.0,246.1 152.0,243.3 153.8,243.3 153.8,248.9 154.8,248.9 154.8,228.3 156.6,228.3 156.6,215.2 158.5,215.2 158.5,206.7 160.4,206.7 160.4,196.4 162.3,196.4 162.3,202.0 164.1,202.0 164.1,211.4 166.0,211.4 166.0,217.0 167.9,217.0 167.9,215.2 169.8,215.2 169.8,211.4 171.7,211.4 171.7,205.8 173.5,205.8 173.5,209.5 175.4,209.5 175.4,217.0 178.2,217.0 178.2,220.8 180.1,220.8 180.1,222.7" fill="none" stroke="#ef9a9c" stroke-width="1.10" stroke-linejoin="miter"/><polyline points="180.1,222.7 183.8,228.3 187.5,229.2 191.3,232.0 195.0,234.9 197.8,232.0 200.6,235.8 204.4,236.7 208.1,237.7 210.0,240.5 212.8,246.1 215.7,247.1 218.5,246.1 221.3,248.0 225.0,250.8 230.7,253.6 238.2,255.9" fill="none" stroke="#ef9a9c" stroke-width="1.10" stroke-linejoin="miter"/></g>
<rect x="135.5" y="176.5" width="108.0" height="80.0" fill="none" stroke="#a3a3a3" stroke-width="1"/>
<line x1="141.5" y1="257.0" x2="141.5" y2="258.7" stroke="#b5b5b5" stroke-width="1"/>
<line x1="160.5" y1="257.0" x2="160.5" y2="258.7" stroke="#b5b5b5" stroke-width="1"/>
<line x1="180.5" y1="257.0" x2="180.5" y2="258.7" stroke="#b5b5b5" stroke-width="1"/>
<line x1="199.5" y1="257.0" x2="199.5" y2="258.7" stroke="#b5b5b5" stroke-width="1"/>
<line x1="218.5" y1="257.0" x2="218.5" y2="258.7" stroke="#b5b5b5" stroke-width="1"/>
<line x1="238.5" y1="257.0" x2="238.5" y2="258.7" stroke="#b5b5b5" stroke-width="1"/>
<line x1="133.3" y1="256.5" x2="135.0" y2="256.5" stroke="#b5b5b5" stroke-width="1"/>
<line x1="133.3" y1="244.5" x2="135.0" y2="244.5" stroke="#b5b5b5" stroke-width="1"/>
<line x1="133.3" y1="232.5" x2="135.0" y2="232.5" stroke="#b5b5b5" stroke-width="1"/>
<line x1="133.3" y1="220.5" x2="135.0" y2="220.5" stroke="#b5b5b5" stroke-width="1"/>
<line x1="133.3" y1="208.5" x2="135.0" y2="208.5" stroke="#b5b5b5" stroke-width="1"/>
<line x1="133.3" y1="196.5" x2="135.0" y2="196.5" stroke="#b5b5b5" stroke-width="1"/>
<line x1="133.3" y1="184.5" x2="135.0" y2="184.5" stroke="#b5b5b5" stroke-width="1"/>
<rect x="220.3" y="177.6" width="21.2" height="19.6" rx="0.6" fill="#fff" fill-opacity="0.8" stroke="#e4e4e4" stroke-width="0.5"/>
<rect x="222.20" y="179.54" width="6.3" height="1.92" fill="none" stroke="#94bfe1" stroke-width="1"/>
<rect x="222.20" y="184.18" width="6.3" height="1.92" fill="none" stroke="#ffbf88" stroke-width="1"/>
<rect x="222.20" y="188.82" width="6.3" height="1.92" fill="none" stroke="#9ad29a" stroke-width="1"/>
<rect x="222.20" y="193.46" width="6.3" height="1.92" fill="none" stroke="#ef9a9c" stroke-width="1"/>
<clipPath id="c9"><rect x="258.5" y="176.5" width="108.0" height="79.5"/></clipPath>
<g clip-path="url(#c9)"><polyline points="263.4,255.5 263.4,255.5 266.3,255.5 266.3,243.3 268.1,243.3 268.1,218.9 270.0,218.9 270.0,203.9 271.9,203.9 271.9,205.8 273.8,205.8 273.8,198.3 275.6,198.3 275.6,192.6 277.5,192.6 277.5,187.0 279.4,187.0 279.4,188.0 281.3,188.0 281.3,185.1 283.1,185.1 283.1,194.5 285.0,194.5 285.0,209.5 286.9,209.5 286.9,218.9 288.8,218.9 288.8,226.4 290.7,226.4 290.7,232.0 292.5,232.0 292.5,237.7 296.3,237.7 296.3,245.2 300.0,245.2 300.0,250.8 303.8,250.8 303.8,251.8 307.5,251.8 307.5,250.8 311.3,250.8 311.3,251.8 316.9,251.8 316.9,252.7" fill="none" stroke="#94bfe1" stroke-width="1.10" stroke-linejoin="miter"/><polyline points="316.9,252.7 326.1,254.7 337.5,255.0 350.6,255.3 365.3,255.7" fill="none" stroke="#94bfe1" stroke-width="1.10" stroke-linejoin="miter"/><polyline points="263.4,255.5 263.4,254.6 265.3,254.6 265.3,247.1 267.2,247.1 267.2,228.3 269.1,228.3 269.1,200.1 271.0,200.1 271.0,196.4 272.8,196.4 272.8,192.6 274.7,192.6 274.7,194.5 276.6,194.5 276.6,188.9 278.5,188.9 278.5,183.3 280.3,183.3 280.3,187.0 282.2,187.0 282.2,194.5 284.1,194.5 284.1,203.9 286.0,203.9 286.0,220.8 287.8,220.8 287.8,233.9 289.7,233.9 289.7,237.7 292.5,237.7 292.5,239.6 296.3,239.6 296.3,243.3 300.0,243.3 300.0,247.1 303.8,247.1 303.8,246.1 307.5,246.1 307.5,248.9 311.3,248.9 311.3,250.8 316.9,250.8 316.9,252.7" fill="none" stroke="#ffbf88" stroke-width="1.10" stroke-linejoin="miter"/><polyline points="316.9,252.7 326.1,254.7 337.5,255.0 349.0,255.2 365.3,255.7" fill="none" stroke="#ffbf88" stroke-width="1.10" stroke-linejoin="miter"/><polyline points="263.4,255.5 263.4,254.6 264.4,254.6 264.4,247.1 266.3,247.1 266.3,226.4 268.1,226.4 268.1,198.3 270.0,198.3 270.0,196.4 271.9,196.4 271.9,180.4 273.8,180.4 273.8,190.8 275.6,190.8 275.6,183.3 277.5,183.3 277.5,187.0 279.4,187.0 279.4,181.4 281.3,181.4 281.3,192.6 283.1,192.6 283.1,198.3 285.0,198.3 285.0,209.5 286.9,209.5 286.9,220.8 288.8,220.8 288.8,230.2 290.7,230.2 290.7,233.9 292.5,233.9 292.5,239.6 294.4,239.6 294.4,245.2 297.2,245.2 297.2,248.9 300.0,248.9 300.0,249.9 303.8,249.9 303.8,250.8 307.5,250.8 307.5,254.6 311.3,254.6 311.3,254.6" fill="none" stroke="#9ad29a" stroke-width="1.10" stroke-linejoin="miter"/><polyline points="311.3,254.6 313.0,254.2 322.8,254.7 332.6,255.0 345.7,255.3 365.3,255.7" fill="none" stroke="#9ad29a" stroke-width="1.10" stroke-linejoin="miter"/><polyline points="263.4,255.5 263.4,255.5 265.3,255.5 265.3,250.8 267.2,250.8 267.2,235.8 269.1,235.8 269.1,220.8 271.0,220.8 271.0,209.5 272.8,209.5 272.8,200.1 274.7,200.1 274.7,196.4 276.6,196.4 276.6,190.8 278.5,190.8 278.5,185.1 280.3,185.1 280.3,192.6 283.1,192.6 283.1,198.3 285.0,198.3 285.0,202.0 286.9,202.0 286.9,215.2 288.8,215.2 288.8,216.1 290.7,216.1 290.7,222.7 292.5,222.7 292.5,230.2 294.4,230.2 294.4,235.8 297.2,235.8 297.2,241.4 300.0,241.4 300.0,245.2 303.8,245.2 303.8,246.1 307.5,246.1 307.5,248.0 311.3,248.0 311.3,250.8 315.0,250.8 315.0,251.8 318.8,251.8 318.8,252.7" fill="none" stroke="#ef9a9c" stroke-width="1.10" stroke-linejoin="miter"/><polyline points="318.8,252.7 322.8,254.7 334.3,254.5 336.7,254.0 339.2,255.0 350.6,255.2 365.3,255.7" fill="none" stroke="#ef9a9c" stroke-width="1.10" stroke-linejoin="miter"/></g>
<rect x="258.5" y="176.5" width="108.0" height="79.0" fill="none" stroke="#a3a3a3" stroke-width="1"/>
<line x1="263.5" y1="256.0" x2="263.5" y2="257.7" stroke="#b5b5b5" stroke-width="1"/>
<line x1="282.5" y1="256.0" x2="282.5" y2="257.7" stroke="#b5b5b5" stroke-width="1"/>
<line x1="302.5" y1="256.0" x2="302.5" y2="257.7" stroke="#b5b5b5" stroke-width="1"/>
<line x1="321.5" y1="256.0" x2="321.5" y2="257.7" stroke="#b5b5b5" stroke-width="1"/>
<line x1="341.5" y1="256.0" x2="341.5" y2="257.7" stroke="#b5b5b5" stroke-width="1"/>
<line x1="360.5" y1="256.0" x2="360.5" y2="257.7" stroke="#b5b5b5" stroke-width="1"/>
<line x1="256.3" y1="255.5" x2="258.0" y2="255.5" stroke="#b5b5b5" stroke-width="1"/>
<line x1="256.3" y1="242.5" x2="258.0" y2="242.5" stroke="#b5b5b5" stroke-width="1"/>
<line x1="256.3" y1="229.5" x2="258.0" y2="229.5" stroke="#b5b5b5" stroke-width="1"/>
<line x1="256.3" y1="217.5" x2="258.0" y2="217.5" stroke="#b5b5b5" stroke-width="1"/>
<line x1="256.3" y1="204.5" x2="258.0" y2="204.5" stroke="#b5b5b5" stroke-width="1"/>
<line x1="256.3" y1="191.5" x2="258.0" y2="191.5" stroke="#b5b5b5" stroke-width="1"/>
<line x1="256.3" y1="178.5" x2="258.0" y2="178.5" stroke="#b5b5b5" stroke-width="1"/>
<rect x="343.3" y="177.7" width="21.2" height="19.4" rx="0.6" fill="#fff" fill-opacity="0.8" stroke="#e4e4e4" stroke-width="0.5"/>
<rect x="345.20" y="179.56" width="6.3" height="1.89" fill="none" stroke="#94bfe1" stroke-width="1"/>
<rect x="345.20" y="184.14" width="6.3" height="1.89" fill="none" stroke="#ffbf88" stroke-width="1"/>
<rect x="345.20" y="188.72" width="6.3" height="1.89" fill="none" stroke="#9ad29a" stroke-width="1"/>
<rect x="345.20" y="193.30" width="6.3" height="1.89" fill="none" stroke="#ef9a9c" stroke-width="1"/>
<clipPath id="c10"><rect x="18.5" y="267.5" width="107.0" height="79.5"/></clipPath>
<g clip-path="url(#c10)"><polyline points="25.2,346.5 25.2,327.7 27.7,327.7 27.7,326.1 30.1,326.1 30.1,318.1 32.5,318.1 32.5,311.6 34.9,311.6 34.9,303.6 37.3,303.6 37.3,294.0 39.7,294.0 39.7,287.5 41.3,287.5 41.3,284.3 43.7,284.3 43.7,285.9 45.3,285.9 45.3,290.7 48.6,290.7 48.6,297.2 51.0,297.2 51.0,302.0 52.6,302.0 52.6,311.6 54.2,311.6 54.2,318.1 55.8,318.1 55.8,326.1 57.4,326.1 57.4,330.9 59.0,330.9 59.0,334.2 61.4,334.2 61.4,337.4 66.3,337.4 66.3,339.3 78.0,339.3 78.0,342.2" fill="none" stroke="#94bfe1" stroke-width="1.10" stroke-linejoin="miter"/><polyline points="78.0,342.2 87.2,344.6 119.3,346.7" fill="none" stroke="#94bfe1" stroke-width="1.10" stroke-linejoin="miter"/><polyline points="25.2,346.5 25.2,326.1 27.7,326.1 27.7,322.9 29.3,322.9 29.3,318.1 30.9,318.1 30.9,308.4 32.5,308.4 32.5,306.8 34.1,306.8 34.1,302.0 35.7,302.0 35.7,292.3 37.3,292.3 37.3,284.3 38.9,284.3 38.9,277.9 40.5,277.9 40.5,271.4 44.5,271.4 44.5,271.4 45.3,271.4 45.3,279.5 47.0,279.5 47.0,285.9 48.6,285.9 48.6,297.2 50.2,297.2 50.2,303.6 51.0,303.6 51.0,313.3 52.6,313.3 52.6,324.5 54.2,324.5 54.2,330.9 55.8,330.9 55.8,335.8 58.2,335.8 58.2,339.0 63.0,339.0 63.0,340.6 69.5,340.6 69.5,342.2 78.0,342.2 78.0,343.8" fill="none" stroke="#ffbf88" stroke-width="1.10" stroke-linejoin="miter"/><polyline points="78.0,343.8 87.2,345.2 119.3,346.7" fill="none" stroke="#ffbf88" stroke-width="1.10" stroke-linejoin="miter"/><polyline points="25.2,346.5 25.2,326.1 27.7,326.1 27.7,324.5 29.3,324.5 29.3,316.5 30.9,316.5 30.9,311.6 32.5,311.6 32.5,308.4 34.1,308.4 34.1,298.8 34.9,298.8 34.9,274.7 37.0,274.7 37.0,273.0 38.9,273.0 38.9,277.9 40.5,277.9 40.5,284.3 42.9,284.3 42.9,297.2 44.5,297.2 44.5,299.6 47.0,299.6 47.0,300.4 48.6,300.4 48.6,297.2 50.2,297.2 50.2,302.0 51.8,302.0 51.8,313.3 53.4,313.3 53.4,321.3 55.0,321.3 55.0,329.3 56.6,329.3 56.6,332.6 58.2,332.6 58.2,335.8 61.4,335.8 61.4,338.2 66.3,338.2 66.3,339.8 78.0,339.8 78.0,343.8" fill="none" stroke="#9ad29a" stroke-width="1.10" stroke-linejoin="miter"/><polyline points="78.0,343.8 87.2,344.6 119.3,346.7" fill="none" stroke="#9ad29a" stroke-width="1.10" stroke-linejoin="miter"/><rect x="22.9" y="311.6" width="2.2" height="34.9" fill="#9ad29a"/><polyline points="25.2,346.5 25.2,329.3 26.8,329.3 26.8,327.7 28.5,327.7 28.5,329.3 30.1,329.3 30.1,324.5 31.7,324.5 31.7,319.7 33.3,319.7 33.3,313.3 34.9,313.3 34.9,308.4 36.5,308.4 36.5,302.0 38.1,302.0 38.1,295.6 39.7,295.6 39.7,289.1 41.3,289.1 41.3,285.9 43.7,285.9 43.7,287.5 45.3,287.5 45.3,289.1 47.0,289.1 47.0,292.3 49.4,292.3 49.4,297.2 51.8,297.2 51.8,303.6 53.4,303.6 53.4,308.4 55.0,308.4 55.0,314.9 56.6,314.9 56.6,321.3 58.2,321.3 58.2,326.1 59.8,326.1 59.8,330.9 61.4,330.9 61.4,334.2 63.0,334.2 63.0,336.6 66.3,336.6 66.3,339.0 71.1,339.0 71.1,340.6 78.0,340.6 78.0,342.2" fill="none" stroke="#ef9a9c" stroke-width="1.10" stroke-linejoin="miter"/><polyline points="78.0,342.2 80.7,342.4 85.0,343.5 89.3,345.2 97.9,346.1 119.3,346.7" fill="none" stroke="#ef9a9c" stroke-width="1.10" stroke-linejoin="miter"/><rect x="22.9" y="318.9" width="2.2" height="27.6" fill="#ef9a9c"/></g>
<rect x="18.5" y="267.5" width="107.0" height="79.0" fill="none" stroke="#a3a3a3" stroke-width="1"/>
<line x1="23.5" y1="347.0" x2="23.5" y2="348.7" stroke="#b5b5b5" stroke-width="1"/>
<line x1="42.5" y1="347.0" x2="42.5" y2="348.7" stroke="#b5b5b5" stroke-width="1"/>
<line x1="62.5" y1="347.0" x2="62.5" y2="348.7" stroke="#b5b5b5" stroke-width="1"/>
<line x1="81.5" y1="347.0" x2="81.5" y2="348.7" stroke="#b5b5b5" stroke-width="1"/>
<line x1="100.5" y1="347.0" x2="100.5" y2="348.7" stroke="#b5b5b5" stroke-width="1"/>
<line x1="119.5" y1="347.0" x2="119.5" y2="348.7" stroke="#b5b5b5" stroke-width="1"/>
<line x1="16.3" y1="346.5" x2="18.0" y2="346.5" stroke="#b5b5b5" stroke-width="1"/>
<line x1="16.3" y1="332.5" x2="18.0" y2="332.5" stroke="#b5b5b5" stroke-width="1"/>
<line x1="16.3" y1="318.5" x2="18.0" y2="318.5" stroke="#b5b5b5" stroke-width="1"/>
<line x1="16.3" y1="304.5" x2="18.0" y2="304.5" stroke="#b5b5b5" stroke-width="1"/>
<line x1="16.3" y1="290.5" x2="18.0" y2="290.5" stroke="#b5b5b5" stroke-width="1"/>
<line x1="16.3" y1="277.5" x2="18.0" y2="277.5" stroke="#b5b5b5" stroke-width="1"/>
<rect x="99.6" y="268.7" width="23.9" height="19.4" rx="0.6" fill="#fff" fill-opacity="0.8" stroke="#e4e4e4" stroke-width="0.5"/>
<rect x="101.50" y="270.56" width="6.3" height="1.89" fill="none" stroke="#94bfe1" stroke-width="1"/>
<rect x="101.50" y="275.14" width="6.3" height="1.89" fill="none" stroke="#ffbf88" stroke-width="1"/>
<rect x="101.50" y="279.72" width="6.3" height="1.89" fill="none" stroke="#9ad29a" stroke-width="1"/>
<rect x="101.50" y="284.30" width="6.3" height="1.89" fill="none" stroke="#ef9a9c" stroke-width="1"/>
<clipPath id="c11"><rect x="138.5" y="266.5" width="107.0" height="80.5"/></clipPath>
<g clip-path="url(#c11)"><polyline points="143.5,346.5 143.5,335.2 146.3,335.2 146.3,322.0 150.1,322.0 150.1,322.0 153.8,322.0 153.8,312.7 156.6,312.7 156.6,320.2 158.5,320.2 158.5,299.5 161.3,299.5 161.3,293.9 163.2,293.9 163.2,280.8 164.1,280.8 164.1,290.1 165.0,290.1 165.0,280.3 166.3,280.3 166.3,301.6 169.0,301.6 169.0,302.9 171.6,302.9 171.6,298.9 173.6,298.9 173.6,288.3 175.6,288.3 175.6,288.3 176.3,288.3 176.3,296.2 177.6,296.2 177.6,304.2 178.9,304.2 178.9,314.8 180.3,314.8 180.3,317.5 182.3,317.5 182.3,321.5 184.3,321.5 184.3,324.1 186.2,324.1 186.2,328.1 188.9,328.1 188.9,329.4 191.6,329.4 191.6,333.4 195.5,333.4 195.5,337.4 199.5,337.4 199.5,340.1 204.8,340.1 204.8,341.4" fill="none" stroke="#94bfe1" stroke-width="1.10" stroke-linejoin="miter"/><polyline points="204.8,341.4 212.9,344.1 223.6,345.2 240.8,346.1" fill="none" stroke="#94bfe1" stroke-width="1.10" stroke-linejoin="miter"/><polyline points="143.5,346.5 143.5,333.3 145.0,333.3 145.0,327.7 146.3,327.7 146.3,310.8 148.2,310.8 148.2,325.8 150.1,325.8 150.1,322.0 152.0,322.0 152.0,292.0 153.8,292.0 153.8,299.5 155.7,299.5 155.7,295.8 157.6,295.8 157.6,292.0 159.5,292.0 159.5,280.8 161.3,280.8 161.3,270.4 163.2,270.4 163.2,278.9 164.1,278.9 164.1,295.8 165.0,295.8 165.0,292.3 167.0,292.3 167.0,301.6 169.0,301.6 169.0,302.9 171.0,302.9 171.0,301.6 172.3,301.6 172.3,305.5 173.6,305.5 173.6,312.2 175.6,312.2 175.6,313.5 177.6,313.5 177.6,313.5 178.9,313.5 178.9,317.5 180.3,317.5 180.3,321.5 182.3,321.5 182.3,325.5 184.3,325.5 184.3,329.4 186.2,329.4 186.2,333.4 188.9,333.4 188.9,338.7 191.6,338.7 191.6,341.4 195.5,341.4 195.5,342.7 204.8,342.7 204.8,343.4" fill="none" stroke="#ffbf88" stroke-width="1.10" stroke-linejoin="miter"/><polyline points="204.8,343.4 208.6,344.6 240.8,346.1" fill="none" stroke="#ffbf88" stroke-width="1.10" stroke-linejoin="miter"/><polyline points="143.5,346.5 143.5,335.2 145.0,335.2 145.0,327.7 146.3,327.7 146.3,312.7 148.2,312.7 148.2,323.9 150.1,323.9 150.1,331.4 152.0,331.4 152.0,308.9 153.8,308.9 153.8,305.2 155.7,305.2 155.7,299.5 157.6,299.5 157.6,284.5 159.5,284.5 159.5,293.9 161.3,293.9 161.3,290.1 163.2,290.1 163.2,292.0 164.1,292.0 164.1,288.3 165.0,288.3 165.0,284.3 167.7,284.3 167.7,282.3 170.3,282.3 170.3,285.6 172.3,285.6 172.3,289.6 174.3,289.6 174.3,294.9 176.3,294.9 176.3,302.9 177.6,302.9 177.6,309.5 178.9,309.5 178.9,317.5 180.3,317.5 180.3,324.1 181.6,324.1 181.6,326.8 183.6,326.8 183.6,332.1 186.2,332.1 186.2,336.1 188.9,336.1 188.9,340.1 191.6,340.1 191.6,342.1 196.9,342.1 196.9,342.7 204.8,342.7 204.8,342.7" fill="none" stroke="#9ad29a" stroke-width="1.10" stroke-linejoin="miter"/><polyline points="204.8,342.7 206.5,343.1 212.9,344.6 240.8,346.1" fill="none" stroke="#9ad29a" stroke-width="1.10" stroke-linejoin="miter"/><polyline points="143.5,346.5 143.5,336.1 144.4,336.1 144.4,333.3 146.3,333.3 146.3,327.7 148.2,327.7 148.2,328.6 150.1,328.6 150.1,325.8 152.0,325.8 152.0,318.3 153.8,318.3 153.8,310.8 155.7,310.8 155.7,314.5 157.6,314.5 157.6,308.9 159.5,308.9 159.5,307.0 161.3,307.0 161.3,305.2 163.2,305.2 163.2,301.4 164.1,301.4 164.1,300.5 165.0,300.5 165.0,300.2 167.7,300.2 167.7,297.6 170.3,297.6 170.3,294.9 172.3,294.9 172.3,296.9 174.3,296.9 174.3,298.2 176.3,298.2 176.3,301.6 177.6,301.6 177.6,306.9 178.9,306.9 178.9,308.2 180.3,308.2 180.3,309.8 182.9,309.8 182.9,310.2 184.3,310.2 184.3,310.9 184.9,310.9 184.9,313.5 186.2,313.5 186.2,317.5 187.6,317.5 187.6,321.5 188.9,321.5 188.9,325.5 190.2,325.5 190.2,328.1 191.6,328.1 191.6,330.8 193.6,330.8 193.6,333.4 195.5,333.4 195.5,337.4 198.2,337.4 198.2,340.1 200.9,340.1 200.9,341.4 204.8,341.4 204.8,342.1" fill="none" stroke="#ef9a9c" stroke-width="1.10" stroke-linejoin="miter"/><polyline points="204.8,342.1 207.5,343.1 212.9,344.6 223.6,345.2 240.8,346.1" fill="none" stroke="#ef9a9c" stroke-width="1.10" stroke-linejoin="miter"/><rect x="143.2" y="337.0" width="1.4" height="9.5" fill="#ef9a9c"/></g>
<rect x="138.5" y="266.5" width="107.0" height="80.0" fill="none" stroke="#a3a3a3" stroke-width="1"/>
<line x1="143.5" y1="347.0" x2="143.5" y2="348.7" stroke="#b5b5b5" stroke-width="1"/>
<line x1="159.5" y1="347.0" x2="159.5" y2="348.7" stroke="#b5b5b5" stroke-width="1"/>
<line x1="175.5" y1="347.0" x2="175.5" y2="348.7" stroke="#b5b5b5" stroke-width="1"/>
<line x1="191.5" y1="347.0" x2="191.5" y2="348.7" stroke="#b5b5b5" stroke-width="1"/>
<line x1="207.5" y1="347.0" x2="207.5" y2="348.7" stroke="#b5b5b5" stroke-width="1"/>
<line x1="223.5" y1="347.0" x2="223.5" y2="348.7" stroke="#b5b5b5" stroke-width="1"/>
<line x1="239.5" y1="347.0" x2="239.5" y2="348.7" stroke="#b5b5b5" stroke-width="1"/>
<line x1="136.3" y1="346.5" x2="138.0" y2="346.5" stroke="#b5b5b5" stroke-width="1"/>
<line x1="136.3" y1="330.5" x2="138.0" y2="330.5" stroke="#b5b5b5" stroke-width="1"/>
<line x1="136.3" y1="314.5" x2="138.0" y2="314.5" stroke="#b5b5b5" stroke-width="1"/>
<line x1="136.3" y1="298.5" x2="138.0" y2="298.5" stroke="#b5b5b5" stroke-width="1"/>
<line x1="136.3" y1="282.5" x2="138.0" y2="282.5" stroke="#b5b5b5" stroke-width="1"/>
<rect x="219.6" y="267.6" width="23.9" height="19.6" rx="0.6" fill="#fff" fill-opacity="0.8" stroke="#e4e4e4" stroke-width="0.5"/>
<rect x="221.50" y="269.54" width="6.3" height="1.92" fill="none" stroke="#94bfe1" stroke-width="1"/>
<rect x="221.50" y="274.18" width="6.3" height="1.92" fill="none" stroke="#ffbf88" stroke-width="1"/>
<rect x="221.50" y="278.82" width="6.3" height="1.92" fill="none" stroke="#9ad29a" stroke-width="1"/>
<rect x="221.50" y="283.46" width="6.3" height="1.92" fill="none" stroke="#ef9a9c" stroke-width="1"/>
<clipPath id="c12"><rect x="257.5" y="264.5" width="109.0" height="81.5"/></clipPath>
<g clip-path="url(#c12)"><polyline points="264.4,345.5 264.4,340.7 267.2,340.7 267.2,335.1 270.0,335.1 270.0,329.4 272.8,329.4 272.8,321.9 275.6,321.9 275.6,314.4 277.5,314.4 277.5,299.4 280.3,299.4 280.3,297.5 283.1,297.5 283.1,291.9 286.0,291.9 286.0,288.1 288.8,288.1 288.8,286.3 290.7,286.3 290.7,287.2 292.5,287.2 292.5,291.9 295.3,291.9 295.3,297.5 298.2,297.5 298.2,303.2 301.0,303.2 301.0,308.8 303.8,308.8 303.8,314.4 307.5,314.4 307.5,321.9 311.3,321.9 311.3,327.6 316.9,327.6 316.9,334.1 325.0,334.1 325.0,336.9" fill="none" stroke="#94bfe1" stroke-width="1.10" stroke-linejoin="miter"/><polyline points="325.0,336.9 326.5,337.4 332.9,339.9 343.6,341.6 362.9,343.8" fill="none" stroke="#94bfe1" stroke-width="1.10" stroke-linejoin="miter"/><polyline points="264.4,345.5 264.4,340.7 266.3,340.7 266.3,335.1 268.1,335.1 268.1,327.6 270.0,327.6 270.0,323.8 271.9,323.8 271.9,312.5 273.8,312.5 273.8,308.8 275.6,308.8 275.6,295.7 277.5,295.7 277.5,286.3 279.4,286.3 279.4,280.6 281.3,280.6 281.3,276.9 283.1,276.9 283.1,269.4 285.0,269.4 285.0,268.4 286.9,268.4 286.9,274.1 288.8,274.1 288.8,270.3 290.7,270.3 290.7,271.3 291.6,271.3 291.6,288.1 293.5,288.1 293.5,291.9 295.3,291.9 295.3,297.5 297.2,297.5 297.2,306.9 300.0,306.9 300.0,312.5 302.9,312.5 302.9,318.2 305.7,318.2 305.7,323.8 309.4,323.8 309.4,331.3 313.2,331.3 313.2,336.9 318.8,336.9 318.8,339.8 325.0,339.8 325.0,340.7" fill="none" stroke="#ffbf88" stroke-width="1.10" stroke-linejoin="miter"/><polyline points="325.0,340.7 326.5,340.6 343.6,342.1 362.9,343.8" fill="none" stroke="#ffbf88" stroke-width="1.10" stroke-linejoin="miter"/><polyline points="264.4,345.5 264.4,338.8 266.3,338.8 266.3,333.2 268.1,333.2 268.1,329.4 270.0,329.4 270.0,323.8 271.9,323.8 271.9,310.7 273.8,310.7 273.8,306.9 275.6,306.9 275.6,293.8 277.5,293.8 277.5,291.9 279.4,291.9 279.4,280.6 281.3,280.6 281.3,279.7 283.1,279.7 283.1,284.4 285.0,284.4 285.0,278.8 286.9,278.8 286.9,277.8 288.8,277.8 288.8,277.8 290.7,277.8 290.7,278.8 292.5,278.8 292.5,290.0 294.4,290.0 294.4,293.8 296.3,293.8 296.3,301.3 299.1,301.3 299.1,308.8 301.9,308.8 301.9,312.5 305.7,312.5 305.7,320.0 309.4,320.0 309.4,329.4 313.2,329.4 313.2,335.1 318.8,335.1 318.8,339.8 325.0,339.8 325.0,340.7" fill="none" stroke="#9ad29a" stroke-width="1.10" stroke-linejoin="miter"/><polyline points="325.0,340.7 332.9,340.6 343.6,342.1 362.9,343.8" fill="none" stroke="#9ad29a" stroke-width="1.10" stroke-linejoin="miter"/><rect x="261.8" y="305.0" width="2.4" height="40.5" fill="#9ad29a"/><polyline points="264.4,345.5 264.4,340.7 265.3,340.7 265.3,340.7 267.2,340.7 267.2,342.6 269.1,342.6 269.1,336.9 271.0,336.9 271.0,331.3 272.8,331.3 272.8,327.6 274.7,327.6 274.7,323.8 276.6,323.8 276.6,314.4 278.5,314.4 278.5,305.0 280.3,305.0 280.3,292.8 281.3,292.8 281.3,291.0 283.1,291.0 283.1,304.1 285.0,304.1 285.0,304.1 286.9,304.1 286.9,295.7 288.8,295.7 288.8,291.9 291.6,291.9 291.6,288.1 293.5,288.1 293.5,283.5 295.3,283.5 295.3,283.5 297.2,283.5 297.2,286.3 299.1,286.3 299.1,290.0 301.0,290.0 301.0,295.7 302.9,295.7 302.9,303.2 304.7,303.2 304.7,306.9 307.5,306.9 307.5,314.4 311.3,314.4 311.3,320.0 315.0,320.0 315.0,325.7 318.8,325.7 318.8,331.3 325.0,331.3 325.0,334.1" fill="none" stroke="#ef9a9c" stroke-width="1.10" stroke-linejoin="miter"/><polyline points="325.0,334.1 326.5,336.3 330.8,338.4 337.2,340.1 345.8,341.6 354.3,342.7 362.9,343.8" fill="none" stroke="#ef9a9c" stroke-width="1.10" stroke-linejoin="miter"/><rect x="261.8" y="307.5" width="2.4" height="38.0" fill="#ef9a9c"/></g>
<rect x="257.5" y="264.5" width="109.0" height="81.0" fill="none" stroke="#a3a3a3" stroke-width="1"/>
<line x1="261.5" y1="346.0" x2="261.5" y2="347.7" stroke="#b5b5b5" stroke-width="1"/>
<line x1="278.5" y1="346.0" x2="278.5" y2="347.7" stroke="#b5b5b5" stroke-width="1"/>
<line x1="294.5" y1="346.0" x2="294.5" y2="347.7" stroke="#b5b5b5" stroke-width="1"/>
<line x1="311.5" y1="346.0" x2="311.5" y2="347.7" stroke="#b5b5b5" stroke-width="1"/>
<line x1="327.5" y1="346.0" x2="327.5" y2="347.7" stroke="#b5b5b5" stroke-width="1"/>
<line x1="343.5" y1="346.0" x2="343.5" y2="347.7" stroke="#b5b5b5" stroke-width="1"/>
<line x1="360.5" y1="346.0" x2="360.5" y2="347.7" stroke="#b5b5b5" stroke-width="1"/>
<line x1="255.3" y1="345.5" x2="257.0" y2="345.5" stroke="#b5b5b5" stroke-width="1"/>
<line x1="255.3" y1="335.5" x2="257.0" y2="335.5" stroke="#b5b5b5" stroke-width="1"/>
<line x1="255.3" y1="326.5" x2="257.0" y2="326.5" stroke="#b5b5b5" stroke-width="1"/>
<line x1="255.3" y1="316.5" x2="257.0" y2="316.5" stroke="#b5b5b5" stroke-width="1"/>
<line x1="255.3" y1="307.5" x2="257.0" y2="307.5" stroke="#b5b5b5" stroke-width="1"/>
<line x1="255.3" y1="297.5" x2="257.0" y2="297.5" stroke="#b5b5b5" stroke-width="1"/>
<line x1="255.3" y1="288.5" x2="257.0" y2="288.5" stroke="#b5b5b5" stroke-width="1"/>
<line x1="255.3" y1="278.5" x2="257.0" y2="278.5" stroke="#b5b5b5" stroke-width="1"/>
<line x1="255.3" y1="269.5" x2="257.0" y2="269.5" stroke="#b5b5b5" stroke-width="1"/>
<rect x="340.6" y="265.6" width="23.9" height="19.8" rx="0.6" fill="#fff" fill-opacity="0.8" stroke="#e4e4e4" stroke-width="0.5"/>
<rect x="342.50" y="267.52" width="6.3" height="1.95" fill="none" stroke="#94bfe1" stroke-width="1"/>
<rect x="342.50" y="272.22" width="6.3" height="1.95" fill="none" stroke="#ffbf88" stroke-width="1"/>
<rect x="342.50" y="276.92" width="6.3" height="1.95" fill="none" stroke="#9ad29a" stroke-width="1"/>
<rect x="342.50" y="281.62" width="6.3" height="1.95" fill="none" stroke="#ef9a9c" stroke-width="1"/>
<clipPath id="c13"><rect x="14.5" y="354.5" width="109.0" height="86.5"/></clipPath>
<g clip-path="url(#c13)"><polyline points="19.6,440.5 19.6,439.3 22.0,439.3 22.0,429.6 24.5,429.6 24.5,415.1 26.9,415.1 26.9,415.1 28.5,415.1 28.5,421.6 30.1,421.6 30.1,397.4 31.7,397.4 31.7,378.1 33.3,378.1 33.3,368.5 34.9,368.5 34.9,370.1 36.5,370.1 36.5,378.1 38.1,378.1 38.1,379.7 39.7,379.7 39.7,378.1 41.3,378.1 41.3,381.3 43.8,381.3 43.8,386.2 46.2,386.2 46.2,394.2 48.6,394.2 48.6,395.8 51.0,395.8 51.0,392.6 53.4,392.6 53.4,395.8 55.8,395.8 55.8,400.6 58.2,400.6 58.2,408.7 60.6,408.7 60.6,416.7 63.1,416.7 63.1,421.6 65.5,421.6 65.5,426.4 68.7,426.4 68.7,428.0 74.0,428.0 74.0,431.2" fill="none" stroke="#94bfe1" stroke-width="1.10" stroke-linejoin="miter"/><polyline points="74.0,431.2 74.3,429.4 78.6,433.6 82.9,436.9 89.3,439.0 97.9,440.5 117.2,441.8" fill="none" stroke="#94bfe1" stroke-width="1.10" stroke-linejoin="miter"/><polyline points="19.6,440.5 19.6,437.6 21.2,437.6 21.2,424.8 22.8,424.8 22.8,415.1 24.5,415.1 24.5,411.9 26.1,411.9 26.1,402.3 27.7,402.3 27.7,397.4 29.3,397.4 29.3,386.2 30.9,386.2 30.9,368.5 32.5,368.5 32.5,365.3 34.1,365.3 34.1,368.5 35.7,368.5 35.7,363.7 37.3,363.7 37.3,358.8 38.9,358.8 38.9,363.7 40.5,363.7 40.5,368.5 42.1,368.5 42.1,371.7 43.8,371.7 43.8,378.1 45.4,378.1 45.4,386.2 47.0,386.2 47.0,392.6 48.6,392.6 48.6,399.0 50.2,399.0 50.2,405.5 51.8,405.5 51.8,410.3 54.2,410.3 54.2,415.1 56.6,415.1 56.6,418.3 59.8,418.3 59.8,423.2 63.1,423.2 63.1,428.0 67.1,428.0 67.1,432.8 74.0,432.8 74.0,436.0" fill="none" stroke="#ffbf88" stroke-width="1.10" stroke-linejoin="miter"/><polyline points="74.0,436.0 74.3,431.9 78.6,434.1 82.9,436.9 89.3,439.7 117.2,441.8" fill="none" stroke="#ffbf88" stroke-width="1.10" stroke-linejoin="miter"/><polyline points="19.6,440.5 19.6,439.3 21.2,439.3 21.2,429.6 22.8,429.6 22.8,421.6 24.5,421.6 24.5,395.8 26.1,395.8 26.1,410.3 27.7,410.3 27.7,402.3 29.3,402.3 29.3,383.0 30.9,383.0 30.9,363.7 32.5,363.7 32.5,361.2 34.1,361.2 34.1,366.9 35.7,366.9 35.7,368.5 37.3,368.5 37.3,364.5 38.9,364.5 38.9,366.1 40.5,366.1 40.5,374.9 42.1,374.9 42.1,383.0 43.8,383.0 43.8,389.4 45.4,389.4 45.4,392.6 47.0,392.6 47.0,386.2 48.6,386.2 48.6,392.6 50.2,392.6 50.2,402.3 52.6,402.3 52.6,408.7 55.0,408.7 55.0,415.1 57.4,415.1 57.4,418.3 60.6,418.3 60.6,423.2 63.9,423.2 63.9,426.4 67.1,426.4 67.1,429.6 70.3,429.6 70.3,432.8 74.0,432.8 74.0,436.0" fill="none" stroke="#9ad29a" stroke-width="1.10" stroke-linejoin="miter"/><polyline points="74.0,436.0 76.4,435.8 82.9,437.9 93.6,440.1 117.2,441.8" fill="none" stroke="#9ad29a" stroke-width="1.10" stroke-linejoin="miter"/><polyline points="19.6,440.5 19.6,440.9 21.2,440.9 21.2,437.6 22.8,437.6 22.8,429.6 24.5,429.6 24.5,424.8 26.1,424.8 26.1,418.3 27.7,418.3 27.7,410.3 29.3,410.3 29.3,399.0 30.9,399.0 30.9,386.2 32.5,386.2 32.5,373.3 34.1,373.3 34.1,366.9 35.7,366.9 35.7,370.1 37.3,370.1 37.3,384.6 38.9,384.6 38.9,379.7 40.5,379.7 40.5,373.3 42.1,373.3 42.1,376.5 43.8,376.5 43.8,383.0 45.4,383.0 45.4,391.0 47.0,391.0 47.0,399.0 48.6,399.0 48.6,402.3 50.2,402.3 50.2,394.2 51.8,394.2 51.8,388.6 54.2,388.6 54.2,389.4 55.8,389.4 55.8,394.2 57.4,394.2 57.4,402.3 59.0,402.3 59.0,407.1 60.6,407.1 60.6,411.9 62.3,411.9 62.3,418.3 63.9,418.3 63.9,421.6 65.5,421.6 65.5,425.6 68.7,425.6 68.7,425.6 71.9,425.6 71.9,425.6 74.0,425.6 74.0,426.4" fill="none" stroke="#ef9a9c" stroke-width="1.10" stroke-linejoin="miter"/><polyline points="74.0,426.4 74.3,426.1 76.4,428.3 78.6,432.6 80.7,435.8 85.0,437.5 89.3,438.4 93.6,437.9 95.8,440.1 102.2,441.2 117.2,441.8" fill="none" stroke="#ef9a9c" stroke-width="1.10" stroke-linejoin="miter"/></g>
<rect x="14.5" y="354.5" width="109.0" height="86.0" fill="none" stroke="#a3a3a3" stroke-width="1"/>
<line x1="19.5" y1="441.0" x2="19.5" y2="442.7" stroke="#b5b5b5" stroke-width="1"/>
<line x1="39.5" y1="441.0" x2="39.5" y2="442.7" stroke="#b5b5b5" stroke-width="1"/>
<line x1="58.5" y1="441.0" x2="58.5" y2="442.7" stroke="#b5b5b5" stroke-width="1"/>
<line x1="78.5" y1="441.0" x2="78.5" y2="442.7" stroke="#b5b5b5" stroke-width="1"/>
<line x1="98.5" y1="441.0" x2="98.5" y2="442.7" stroke="#b5b5b5" stroke-width="1"/>
<line x1="117.5" y1="441.0" x2="117.5" y2="442.7" stroke="#b5b5b5" stroke-width="1"/>
<line x1="12.3" y1="440.5" x2="14.0" y2="440.5" stroke="#b5b5b5" stroke-width="1"/>
<line x1="12.3" y1="422.5" x2="14.0" y2="422.5" stroke="#b5b5b5" stroke-width="1"/>
<line x1="12.3" y1="403.5" x2="14.0" y2="403.5" stroke="#b5b5b5" stroke-width="1"/>
<line x1="12.3" y1="385.5" x2="14.0" y2="385.5" stroke="#b5b5b5" stroke-width="1"/>
<line x1="12.3" y1="366.5" x2="14.0" y2="366.5" stroke="#b5b5b5" stroke-width="1"/>
<rect x="97.6" y="355.5" width="23.9" height="20.9" rx="0.6" fill="#fff" fill-opacity="0.8" stroke="#e4e4e4" stroke-width="0.5"/>
<rect x="99.50" y="357.44" width="6.3" height="2.12" fill="none" stroke="#94bfe1" stroke-width="1"/>
<rect x="99.50" y="362.43" width="6.3" height="2.12" fill="none" stroke="#ffbf88" stroke-width="1"/>
<rect x="99.50" y="367.41" width="6.3" height="2.12" fill="none" stroke="#9ad29a" stroke-width="1"/>
<rect x="99.50" y="372.40" width="6.3" height="2.12" fill="none" stroke="#ef9a9c" stroke-width="1"/>
<clipPath id="c14"><rect x="137.5" y="356.5" width="108.0" height="85.5"/></clipPath>
<g clip-path="url(#c14)"><polyline points="142.6,441.5 142.6,439.6 146.7,439.6 146.7,439.6 149.9,439.6 149.9,434.8 152.3,434.8 152.3,428.4 154.7,428.4 154.7,418.7 157.1,418.7 157.1,409.1 159.5,409.1 159.5,393.0 161.1,393.0 161.1,373.7 162.7,373.7 162.7,362.4 164.3,362.4 164.3,370.5 166.0,370.5 166.0,376.9 168.4,376.9 168.4,388.2 170.0,388.2 170.0,399.4 171.6,399.4 171.6,404.3 174.0,404.3 174.0,405.9 176.4,405.9 176.4,402.6 178.8,402.6 178.8,407.5 181.2,407.5 181.2,412.3 183.6,412.3 183.6,417.1 186.1,417.1 186.1,420.3 188.5,420.3 188.5,421.9 191.7,421.9 191.7,424.4 194.9,424.4 194.9,426.0 197.0,426.0 197.0,426.8" fill="none" stroke="#94bfe1" stroke-width="1.10" stroke-linejoin="miter"/><polyline points="197.0,426.8 199.0,433.6 204.3,436.9 212.9,439.7 225.8,440.9 238.6,441.8" fill="none" stroke="#94bfe1" stroke-width="1.10" stroke-linejoin="miter"/><polyline points="142.6,441.5 142.6,439.6 145.8,439.6 145.8,440.4 149.1,440.4 149.1,436.4 151.5,436.4 151.5,430.0 153.1,430.0 153.1,423.6 154.7,423.6 154.7,413.9 156.3,413.9 156.3,404.3 157.9,404.3 157.9,397.8 159.5,397.8 159.5,383.3 161.1,383.3 161.1,373.7 162.7,373.7 162.7,367.3 164.3,367.3 164.3,360.8 166.0,360.8 166.0,375.3 167.6,375.3 167.6,381.7 169.2,381.7 169.2,394.6 170.8,394.6 170.8,401.0 172.4,401.0 172.4,402.6 174.0,402.6 174.0,402.6 176.4,402.6 176.4,404.3 178.0,404.3 178.0,407.5 179.6,407.5 179.6,412.3 182.0,412.3 182.0,417.1 184.5,417.1 184.5,421.9 186.9,421.9 186.9,425.2 189.3,425.2 189.3,428.4 191.7,428.4 191.7,431.6 194.1,431.6 194.1,434.0 197.0,434.0 197.0,435.6" fill="none" stroke="#ffbf88" stroke-width="1.10" stroke-linejoin="miter"/><polyline points="197.0,435.6 200.0,437.9 206.5,439.7 217.2,440.9 238.6,441.8" fill="none" stroke="#ffbf88" stroke-width="1.10" stroke-linejoin="miter"/><polyline points="142.6,441.5 142.6,439.6 145.8,439.6 145.8,440.4 148.3,440.4 148.3,436.4 149.9,436.4 149.9,431.6 151.5,431.6 151.5,426.8 153.1,426.8 153.1,417.1 154.7,417.1 154.7,409.1 156.3,409.1 156.3,402.6 157.9,402.6 157.9,394.6 159.5,394.6 159.5,380.1 161.1,380.1 161.1,368.9 162.7,368.9 162.7,367.3 164.3,367.3 164.3,376.9 166.0,376.9 166.0,380.1 167.6,380.1 167.6,388.2 169.2,388.2 169.2,394.6 170.8,394.6 170.8,399.4 172.4,399.4 172.4,401.0 174.8,401.0 174.8,399.4 177.2,399.4 177.2,401.0 178.8,401.0 178.8,402.6 180.4,402.6 180.4,413.9 182.0,413.9 182.0,420.3 184.5,420.3 184.5,421.9 186.9,421.9 186.9,425.2 189.3,425.2 189.3,428.4 191.7,428.4 191.7,431.6 194.1,431.6 194.1,433.2 197.0,433.2 197.0,434.8" fill="none" stroke="#9ad29a" stroke-width="1.10" stroke-linejoin="miter"/><polyline points="197.0,434.8 202.2,437.9 210.8,440.1 225.8,441.2 238.6,441.8" fill="none" stroke="#9ad29a" stroke-width="1.10" stroke-linejoin="miter"/><polyline points="142.6,441.5 142.6,440.4 145.8,440.4 145.8,441.3 149.1,441.3 149.1,438.0 151.5,438.0 151.5,434.8 153.1,434.8 153.1,430.0 154.7,430.0 154.7,423.6 156.3,423.6 156.3,421.9 157.9,421.9 157.9,417.1 159.5,417.1 159.5,409.1 161.1,409.1 161.1,396.2 162.7,396.2 162.7,385.0 164.3,385.0 164.3,375.3 166.0,375.3 166.0,385.0 167.6,385.0 167.6,386.6 169.2,386.6 169.2,389.8 171.6,389.8 171.6,389.8 172.4,389.8 172.4,399.4 174.0,399.4 174.0,402.6 175.6,402.6 175.6,407.5 177.2,407.5 177.2,410.7 178.8,410.7 178.8,404.3 180.4,404.3 180.4,401.0 182.0,401.0 182.0,404.3 183.6,404.3 183.6,409.1 185.3,409.1 185.3,412.3 186.9,412.3 186.9,412.3 188.5,412.3 188.5,415.5 190.1,415.5 190.1,418.7 191.7,418.7 191.7,421.9 193.3,421.9 193.3,423.6 194.9,423.6 194.9,425.2 197.0,425.2 197.0,426.8" fill="none" stroke="#ef9a9c" stroke-width="1.10" stroke-linejoin="miter"/><polyline points="197.0,426.8 200.0,432.6 204.3,435.8 209.7,437.9 215.0,439.7 225.8,440.9 238.6,441.8" fill="none" stroke="#ef9a9c" stroke-width="1.10" stroke-linejoin="miter"/></g>
<rect x="137.5" y="356.5" width="108.0" height="85.0" fill="none" stroke="#a3a3a3" stroke-width="1"/>
<line x1="142.5" y1="442.0" x2="142.5" y2="443.7" stroke="#b5b5b5" stroke-width="1"/>
<line x1="161.5" y1="442.0" x2="161.5" y2="443.7" stroke="#b5b5b5" stroke-width="1"/>
<line x1="181.5" y1="442.0" x2="181.5" y2="443.7" stroke="#b5b5b5" stroke-width="1"/>
<line x1="200.5" y1="442.0" x2="200.5" y2="443.7" stroke="#b5b5b5" stroke-width="1"/>
<line x1="220.5" y1="442.0" x2="220.5" y2="443.7" stroke="#b5b5b5" stroke-width="1"/>
<line x1="239.5" y1="442.0" x2="239.5" y2="443.7" stroke="#b5b5b5" stroke-width="1"/>
<line x1="135.3" y1="441.5" x2="137.0" y2="441.5" stroke="#b5b5b5" stroke-width="1"/>
<line x1="135.3" y1="427.5" x2="137.0" y2="427.5" stroke="#b5b5b5" stroke-width="1"/>
<line x1="135.3" y1="412.5" x2="137.0" y2="412.5" stroke="#b5b5b5" stroke-width="1"/>
<line x1="135.3" y1="398.5" x2="137.0" y2="398.5" stroke="#b5b5b5" stroke-width="1"/>
<line x1="135.3" y1="383.5" x2="137.0" y2="383.5" stroke="#b5b5b5" stroke-width="1"/>
<line x1="135.3" y1="369.5" x2="137.0" y2="369.5" stroke="#b5b5b5" stroke-width="1"/>
<rect x="219.6" y="357.6" width="23.9" height="20.7" rx="0.6" fill="#fff" fill-opacity="0.8" stroke="#e4e4e4" stroke-width="0.5"/>
<rect x="221.50" y="359.45" width="6.3" height="2.09" fill="none" stroke="#94bfe1" stroke-width="1"/>
<rect x="221.50" y="364.38" width="6.3" height="2.09" fill="none" stroke="#ffbf88" stroke-width="1"/>
<rect x="221.50" y="369.31" width="6.3" height="2.09" fill="none" stroke="#9ad29a" stroke-width="1"/>
<rect x="221.50" y="374.25" width="6.3" height="2.09" fill="none" stroke="#ef9a9c" stroke-width="1"/>
<clipPath id="c15"><rect x="259.5" y="356.5" width="106.0" height="83.5"/></clipPath>
<g clip-path="url(#c15)"><polyline points="264.0,439.5 264.0,435.4 266.4,435.4 266.4,424.2 268.8,424.2 268.8,419.3 271.3,419.3 271.3,411.3 273.7,411.3 273.7,400.0 276.1,400.0 276.1,387.2 278.5,387.2 278.5,375.9 280.9,375.9 280.9,371.1 283.3,371.1 283.3,367.9 285.7,367.9 285.7,366.3 287.3,366.3 287.3,372.7 289.0,372.7 289.0,379.1 290.6,379.1 290.6,390.4 292.2,390.4 292.2,400.0 294.6,400.0 294.6,409.7 297.0,409.7 297.0,416.1 299.4,416.1 299.4,420.9 301.8,420.9 301.8,424.2 305.0,424.2 305.0,429.0 308.3,429.0 308.3,432.2 313.1,432.2 313.1,434.6 320.0,434.6 320.0,436.2" fill="none" stroke="#94bfe1" stroke-width="1.10" stroke-linejoin="miter"/><polyline points="320.0,436.2 324.3,437.9 339.3,439.2 360.8,440.1" fill="none" stroke="#94bfe1" stroke-width="1.10" stroke-linejoin="miter"/><polyline points="264.0,439.5 264.0,432.2 265.6,432.2 265.6,420.9 268.0,420.9 268.0,419.3 269.7,419.3 269.7,409.7 271.3,409.7 271.3,398.4 272.9,398.4 272.9,393.6 274.5,393.6 274.5,387.2 276.1,387.2 276.1,372.7 277.7,372.7 277.7,369.5 279.3,369.5 279.3,372.7 280.9,372.7 280.9,371.1 282.5,371.1 282.5,369.5 284.1,369.5 284.1,366.3 285.7,366.3 285.7,367.9 287.3,367.9 287.3,375.9 289.0,375.9 289.0,387.2 290.6,387.2 290.6,398.4 292.2,398.4 292.2,406.5 293.8,406.5 293.8,411.3 296.2,411.3 296.2,417.7 298.6,417.7 298.6,422.6 301.0,422.6 301.0,425.8 303.4,425.8 303.4,429.0 306.6,429.0 306.6,432.2 311.5,432.2 311.5,434.6 320.0,434.6 320.0,436.2" fill="none" stroke="#ffbf88" stroke-width="1.10" stroke-linejoin="miter"/><polyline points="320.0,436.2 328.6,438.4 360.8,440.1" fill="none" stroke="#ffbf88" stroke-width="1.10" stroke-linejoin="miter"/><polyline points="264.0,439.5 264.0,433.8 265.6,433.8 265.6,422.6 267.2,422.6 267.2,420.9 268.8,420.9 268.8,417.7 270.5,417.7 270.5,409.7 272.1,409.7 272.1,401.6 273.7,401.6 273.7,392.0 275.3,392.0 275.3,382.3 276.9,382.3 276.9,372.7 278.5,372.7 278.5,369.5 280.1,369.5 280.1,367.9 281.7,367.9 281.7,367.1 283.3,367.1 283.3,364.7 284.9,364.7 284.9,364.7 286.5,364.7 286.5,367.9 288.1,367.9 288.1,377.5 289.8,377.5 289.8,387.2 291.4,387.2 291.4,400.0 293.0,400.0 293.0,408.1 294.6,408.1 294.6,412.9 297.0,412.9 297.0,417.7 299.4,417.7 299.4,422.6 301.8,422.6 301.8,427.4 305.0,427.4 305.0,431.4 308.3,431.4 308.3,433.8 313.1,433.8 313.1,435.4 320.0,435.4 320.0,437.0" fill="none" stroke="#9ad29a" stroke-width="1.10" stroke-linejoin="miter"/><polyline points="320.0,437.0 328.6,438.4 360.8,440.1" fill="none" stroke="#9ad29a" stroke-width="1.10" stroke-linejoin="miter"/><polyline points="264.0,439.5 264.0,435.4 265.6,435.4 265.6,427.4 267.2,427.4 267.2,429.0 268.8,429.0 268.8,425.8 270.5,425.8 270.5,419.3 272.1,419.3 272.1,417.7 273.7,417.7 273.7,411.3 275.3,411.3 275.3,401.6 276.9,401.6 276.9,396.8 278.5,396.8 278.5,390.4 280.1,390.4 280.1,379.1 281.7,379.1 281.7,377.5 283.3,377.5 283.3,372.7 284.9,372.7 284.9,367.9 285.7,367.9 285.7,361.4 287.0,361.4 287.0,371.1 288.1,371.1 288.1,375.9 289.8,375.9 289.8,379.1 291.4,379.1 291.4,371.1 293.0,371.1 293.0,384.0 294.1,384.0 294.1,401.6 295.4,401.6 295.4,408.1 297.0,408.1 297.0,412.9 298.6,412.9 298.6,416.1 300.2,416.1 300.2,419.3 301.8,419.3 301.8,420.9 303.4,420.9 303.4,424.2 305.8,424.2 305.8,426.6 308.3,426.6 308.3,429.0 311.5,429.0 311.5,431.4 314.7,431.4 314.7,433.8 320.0,433.8 320.0,436.2" fill="none" stroke="#ef9a9c" stroke-width="1.10" stroke-linejoin="miter"/><polyline points="320.0,436.2 328.6,438.4 339.3,439.0 360.8,440.1" fill="none" stroke="#ef9a9c" stroke-width="1.10" stroke-linejoin="miter"/></g>
<rect x="259.5" y="356.5" width="106.0" height="83.0" fill="none" stroke="#a3a3a3" stroke-width="1"/>
<line x1="264.5" y1="440.0" x2="264.5" y2="441.7" stroke="#b5b5b5" stroke-width="1"/>
<line x1="280.5" y1="440.0" x2="280.5" y2="441.7" stroke="#b5b5b5" stroke-width="1"/>
<line x1="295.5" y1="440.0" x2="295.5" y2="441.7" stroke="#b5b5b5" stroke-width="1"/>
<line x1="311.5" y1="440.0" x2="311.5" y2="441.7" stroke="#b5b5b5" stroke-width="1"/>
<line x1="327.5" y1="440.0" x2="327.5" y2="441.7" stroke="#b5b5b5" stroke-width="1"/>
<line x1="343.5" y1="440.0" x2="343.5" y2="441.7" stroke="#b5b5b5" stroke-width="1"/>
<line x1="359.5" y1="440.0" x2="359.5" y2="441.7" stroke="#b5b5b5" stroke-width="1"/>
<line x1="257.3" y1="439.5" x2="259.0" y2="439.5" stroke="#b5b5b5" stroke-width="1"/>
<line x1="257.3" y1="424.5" x2="259.0" y2="424.5" stroke="#b5b5b5" stroke-width="1"/>
<line x1="257.3" y1="409.5" x2="259.0" y2="409.5" stroke="#b5b5b5" stroke-width="1"/>
<line x1="257.3" y1="395.5" x2="259.0" y2="395.5" stroke="#b5b5b5" stroke-width="1"/>
<line x1="257.3" y1="380.5" x2="259.0" y2="380.5" stroke="#b5b5b5" stroke-width="1"/>
<line x1="257.3" y1="365.5" x2="259.0" y2="365.5" stroke="#b5b5b5" stroke-width="1"/>
<rect x="339.6" y="357.6" width="23.9" height="20.3" rx="0.6" fill="#fff" fill-opacity="0.8" stroke="#e4e4e4" stroke-width="0.5"/>
<rect x="341.50" y="359.49" width="6.3" height="2.02" fill="none" stroke="#94bfe1" stroke-width="1"/>
<rect x="341.50" y="364.30" width="6.3" height="2.02" fill="none" stroke="#ffbf88" stroke-width="1"/>
<rect x="341.50" y="369.12" width="6.3" height="2.02" fill="none" stroke="#9ad29a" stroke-width="1"/>
<rect x="341.50" y="373.93" width="6.3" height="2.02" fill="none" stroke="#ef9a9c" stroke-width="1"/>
<clipPath id="c16"><rect x="14.5" y="453.5" width="108.0" height="86.5"/></clipPath>
<g clip-path="url(#c16)"><polyline points="21.5,539.5 21.5,531.9 24.0,531.9 24.0,530.3 26.5,530.3 26.5,525.3 29.1,525.3 29.1,518.6 31.6,518.6 31.6,505.2 33.2,505.2 33.2,495.2 34.9,495.2 34.9,483.4 36.6,483.4 36.6,473.4 38.2,473.4 38.2,468.4 40.8,468.4 40.8,470.1 43.3,470.1 43.3,480.1 44.9,480.1 44.9,488.5 47.4,488.5 47.4,500.2 50.0,500.2 50.0,508.5 52.5,508.5 52.5,513.5 55.8,513.5 55.8,520.2 59.2,520.2 59.2,523.6 64.2,523.6 64.2,527.8 69.2,527.8 69.2,531.9 74.0,531.9 74.0,534.4" fill="none" stroke="#94bfe1" stroke-width="1.10" stroke-linejoin="miter"/><polyline points="74.0,534.4 76.4,536.1 87.2,537.6 117.2,539.3" fill="none" stroke="#94bfe1" stroke-width="1.10" stroke-linejoin="miter"/><polyline points="21.5,539.5 21.5,530.3 23.2,530.3 23.2,525.3 24.9,525.3 24.9,520.2 26.5,520.2 26.5,510.2 28.2,510.2 28.2,505.2 29.9,505.2 29.9,501.8 31.6,501.8 31.6,490.1 33.2,490.1 33.2,470.1 34.9,470.1 34.9,463.4 36.6,463.4 36.6,457.5 38.2,457.5 38.2,468.4 39.9,468.4 39.9,473.4 41.6,473.4 41.6,478.4 43.3,478.4 43.3,486.8 44.9,486.8 44.9,495.2 46.6,495.2 46.6,503.5 48.3,503.5 48.3,511.9 50.0,511.9 50.0,516.9 52.5,516.9 52.5,523.6 55.8,523.6 55.8,528.6 59.2,528.6 59.2,531.1 64.2,531.1 64.2,532.8 74.0,532.8 74.0,535.3" fill="none" stroke="#ffbf88" stroke-width="1.10" stroke-linejoin="miter"/><polyline points="74.0,535.3 78.6,537.2 97.9,538.2 117.2,539.3" fill="none" stroke="#ffbf88" stroke-width="1.10" stroke-linejoin="miter"/><polyline points="21.5,539.5 21.5,531.9 24.0,531.9 24.0,528.6 26.5,528.6 26.5,523.6 28.2,523.6 28.2,518.6 29.9,518.6 29.9,506.9 31.6,506.9 31.6,493.5 33.2,493.5 33.2,483.4 34.9,483.4 34.9,473.4 36.6,473.4 36.6,468.4 38.2,468.4 38.2,467.6 39.9,467.6 39.9,466.7 41.6,466.7 41.6,469.2 43.3,469.2 43.3,476.8 44.9,476.8 44.9,486.8 46.6,486.8 46.6,493.5 48.3,493.5 48.3,500.2 50.0,500.2 50.0,508.5 52.5,508.5 52.5,513.5 55.8,513.5 55.8,518.6 59.2,518.6 59.2,523.6 64.2,523.6 64.2,528.6 69.2,528.6 69.2,531.9 74.0,531.9 74.0,534.4" fill="none" stroke="#9ad29a" stroke-width="1.10" stroke-linejoin="miter"/><polyline points="74.0,534.4 80.7,537.2 97.9,538.2 117.2,539.3" fill="none" stroke="#9ad29a" stroke-width="1.10" stroke-linejoin="miter"/><rect x="19.0" y="492.3" width="2.5" height="47.2" fill="#9ad29a"/><polyline points="21.5,539.5 21.5,533.6 23.2,533.6 23.2,535.3 24.9,535.3 24.9,533.6 26.5,533.6 26.5,528.6 28.2,528.6 28.2,523.6 29.9,523.6 29.9,515.2 31.6,515.2 31.6,505.2 33.2,505.2 33.2,493.5 34.9,493.5 34.9,480.1 36.6,480.1 36.6,471.7 38.2,471.7 38.2,468.4 39.9,468.4 39.9,467.6 41.6,467.6 41.6,470.1 43.3,470.1 43.3,471.7 44.9,471.7 44.9,478.4 46.6,478.4 46.6,486.8 48.3,486.8 48.3,488.5 49.1,488.5 49.1,505.2 50.8,505.2 50.8,510.2 53.3,510.2 53.3,513.5 55.8,513.5 55.8,518.6 58.3,518.6 58.3,521.9 60.8,521.9 60.8,524.4 64.2,524.4 64.2,526.9 69.2,526.9 69.2,530.3 74.0,530.3 74.0,533.6" fill="none" stroke="#ef9a9c" stroke-width="1.10" stroke-linejoin="miter"/><polyline points="74.0,533.6 76.4,536.1 80.7,537.2 87.2,537.8 97.9,538.2 117.2,539.3" fill="none" stroke="#ef9a9c" stroke-width="1.10" stroke-linejoin="miter"/><rect x="19.0" y="493.3" width="2.5" height="46.2" fill="#ef9a9c"/></g>
<rect x="14.5" y="453.5" width="108.0" height="86.0" fill="none" stroke="#a3a3a3" stroke-width="1"/>
<line x1="19.5" y1="540.0" x2="19.5" y2="541.7" stroke="#b5b5b5" stroke-width="1"/>
<line x1="35.5" y1="540.0" x2="35.5" y2="541.7" stroke="#b5b5b5" stroke-width="1"/>
<line x1="51.5" y1="540.0" x2="51.5" y2="541.7" stroke="#b5b5b5" stroke-width="1"/>
<line x1="68.5" y1="540.0" x2="68.5" y2="541.7" stroke="#b5b5b5" stroke-width="1"/>
<line x1="84.5" y1="540.0" x2="84.5" y2="541.7" stroke="#b5b5b5" stroke-width="1"/>
<line x1="100.5" y1="540.0" x2="100.5" y2="541.7" stroke="#b5b5b5" stroke-width="1"/>
<line x1="117.5" y1="540.0" x2="117.5" y2="541.7" stroke="#b5b5b5" stroke-width="1"/>
<line x1="12.3" y1="539.5" x2="14.0" y2="539.5" stroke="#b5b5b5" stroke-width="1"/>
<line x1="12.3" y1="524.5" x2="14.0" y2="524.5" stroke="#b5b5b5" stroke-width="1"/>
<line x1="12.3" y1="510.5" x2="14.0" y2="510.5" stroke="#b5b5b5" stroke-width="1"/>
<line x1="12.3" y1="495.5" x2="14.0" y2="495.5" stroke="#b5b5b5" stroke-width="1"/>
<line x1="12.3" y1="480.5" x2="14.0" y2="480.5" stroke="#b5b5b5" stroke-width="1"/>
<line x1="12.3" y1="466.5" x2="14.0" y2="466.5" stroke="#b5b5b5" stroke-width="1"/>
<rect x="96.6" y="454.5" width="23.9" height="20.9" rx="0.6" fill="#fff" fill-opacity="0.8" stroke="#e4e4e4" stroke-width="0.5"/>
<rect x="98.50" y="456.44" width="6.3" height="2.12" fill="none" stroke="#94bfe1" stroke-width="1"/>
<rect x="98.50" y="461.43" width="6.3" height="2.12" fill="none" stroke="#ffbf88" stroke-width="1"/>
<rect x="98.50" y="466.41" width="6.3" height="2.12" fill="none" stroke="#9ad29a" stroke-width="1"/>
<rect x="98.50" y="471.40" width="6.3" height="2.12" fill="none" stroke="#ef9a9c" stroke-width="1"/>
<clipPath id="c17"><rect x="137.5" y="452.5" width="108.0" height="86.5"/></clipPath>
<g clip-path="url(#c17)"><polyline points="142.0,538.5 142.0,516.1 144.5,516.1 144.5,515.2 146.2,515.2 146.2,508.5 147.9,508.5 147.9,498.5 150.4,498.5 150.4,495.2 152.1,495.2 152.1,488.5 153.7,488.5 153.7,480.1 155.4,480.1 155.4,468.4 157.9,468.4 157.9,466.7 159.6,466.7 159.6,470.1 161.2,470.1 161.2,478.4 162.9,478.4 162.9,490.1 164.6,490.1 164.6,496.8 166.3,496.8 166.3,505.2 167.9,505.2 167.9,513.5 169.6,513.5 169.6,518.6 172.1,518.6 172.1,525.3 174.6,525.3 174.6,530.3 178.0,530.3 178.0,533.6 182.2,533.6 182.2,536.1 187.2,536.1 187.2,537.8" fill="none" stroke="#94bfe1" stroke-width="1.10" stroke-linejoin="miter"/><polyline points="187.2,537.8 240.8,539.3" fill="none" stroke="#94bfe1" stroke-width="1.10" stroke-linejoin="miter"/><polyline points="142.0,538.5 142.0,510.2 143.7,510.2 143.7,508.5 146.2,508.5 146.2,503.5 147.9,503.5 147.9,491.8 149.5,491.8 149.5,488.5 151.2,488.5 151.2,483.4 152.9,483.4 152.9,476.8 154.6,476.8 154.6,460.0 157.9,460.0 157.9,456.7 159.6,456.7 159.6,470.1 161.2,470.1 161.2,483.4 162.9,483.4 162.9,493.5 164.6,493.5 164.6,503.5 166.3,503.5 166.3,511.9 167.9,511.9 167.9,520.2 169.6,520.2 169.6,525.3 172.1,525.3 172.1,530.3 175.5,530.3 175.5,533.6 180.5,533.6 180.5,536.6 187.2,536.6 187.2,538.3" fill="none" stroke="#ffbf88" stroke-width="1.10" stroke-linejoin="miter"/><polyline points="187.2,538.3 212.9,538.7 240.8,539.3" fill="none" stroke="#ffbf88" stroke-width="1.10" stroke-linejoin="miter"/><polyline points="142.0,538.5 142.0,513.5 143.7,513.5 143.7,508.5 145.4,508.5 145.4,506.9 147.0,506.9 147.0,498.5 148.7,498.5 148.7,493.5 150.4,493.5 150.4,490.1 152.1,490.1 152.1,483.4 153.7,483.4 153.7,478.4 154.6,478.4 154.6,457.5 157.9,457.5 157.9,457.5 158.7,457.5 158.7,471.7 160.4,471.7 160.4,481.8 162.1,481.8 162.1,488.5 163.8,488.5 163.8,496.8 165.4,496.8 165.4,505.2 167.1,505.2 167.1,511.9 168.8,511.9 168.8,520.2 170.4,520.2 170.4,526.9 173.0,526.9 173.0,531.9 175.5,531.9 175.5,534.4 180.5,534.4 180.5,537.0 187.2,537.0 187.2,538.3" fill="none" stroke="#9ad29a" stroke-width="1.10" stroke-linejoin="miter"/><polyline points="187.2,538.3 240.8,539.3" fill="none" stroke="#9ad29a" stroke-width="1.10" stroke-linejoin="miter"/><polyline points="142.9,538.5 142.9,515.2 144.5,515.2 144.5,518.6 146.2,518.6 146.2,511.9 147.9,511.9 147.9,503.5 149.5,503.5 149.5,503.5 151.2,503.5 151.2,503.5 152.9,503.5 152.9,498.5 154.6,498.5 154.6,488.5 156.2,488.5 156.2,478.4 157.9,478.4 157.9,470.1 159.6,470.1 159.6,476.8 161.2,476.8 161.2,480.1 162.9,480.1 162.9,483.4 164.6,483.4 164.6,485.1 166.3,485.1 166.3,496.8 167.9,496.8 167.9,508.5 169.6,508.5 169.6,513.5 171.3,513.5 171.3,518.6 173.0,518.6 173.0,521.9 174.6,521.9 174.6,526.9 176.3,526.9 176.3,528.6 178.8,528.6 178.8,530.3 181.3,530.3 181.3,533.6 183.8,533.6 183.8,536.1 187.2,536.1 187.2,537.8 192.2,537.8 192.2,538.3" fill="none" stroke="#ef9a9c" stroke-width="1.10" stroke-linejoin="miter"/><polyline points="192.2,538.3 195.7,538.7 240.8,539.3" fill="none" stroke="#ef9a9c" stroke-width="1.10" stroke-linejoin="miter"/><rect x="142.3" y="515.0" width="1.3" height="23.5" fill="#ef9a9c"/></g>
<rect x="137.5" y="452.5" width="108.0" height="86.0" fill="none" stroke="#a3a3a3" stroke-width="1"/>
<line x1="142.5" y1="539.0" x2="142.5" y2="540.7" stroke="#b5b5b5" stroke-width="1"/>
<line x1="158.5" y1="539.0" x2="158.5" y2="540.7" stroke="#b5b5b5" stroke-width="1"/>
<line x1="175.5" y1="539.0" x2="175.5" y2="540.7" stroke="#b5b5b5" stroke-width="1"/>
<line x1="191.5" y1="539.0" x2="191.5" y2="540.7" stroke="#b5b5b5" stroke-width="1"/>
<line x1="207.5" y1="539.0" x2="207.5" y2="540.7" stroke="#b5b5b5" stroke-width="1"/>
<line x1="224.5" y1="539.0" x2="224.5" y2="540.7" stroke="#b5b5b5" stroke-width="1"/>
<line x1="240.5" y1="539.0" x2="240.5" y2="540.7" stroke="#b5b5b5" stroke-width="1"/>
<line x1="135.3" y1="538.5" x2="137.0" y2="538.5" stroke="#b5b5b5" stroke-width="1"/>
<line x1="135.3" y1="527.5" x2="137.0" y2="527.5" stroke="#b5b5b5" stroke-width="1"/>
<line x1="135.3" y1="515.5" x2="137.0" y2="515.5" stroke="#b5b5b5" stroke-width="1"/>
<line x1="135.3" y1="504.5" x2="137.0" y2="504.5" stroke="#b5b5b5" stroke-width="1"/>
<line x1="135.3" y1="493.5" x2="137.0" y2="493.5" stroke="#b5b5b5" stroke-width="1"/>
<line x1="135.3" y1="481.5" x2="137.0" y2="481.5" stroke="#b5b5b5" stroke-width="1"/>
<line x1="135.3" y1="470.5" x2="137.0" y2="470.5" stroke="#b5b5b5" stroke-width="1"/>
<line x1="135.3" y1="458.5" x2="137.0" y2="458.5" stroke="#b5b5b5" stroke-width="1"/>
<rect x="219.6" y="453.5" width="23.9" height="20.9" rx="0.6" fill="#fff" fill-opacity="0.8" stroke="#e4e4e4" stroke-width="0.5"/>
<rect x="221.50" y="455.44" width="6.3" height="2.12" fill="none" stroke="#94bfe1" stroke-width="1"/>
<rect x="221.50" y="460.43" width="6.3" height="2.12" fill="none" stroke="#ffbf88" stroke-width="1"/>
<rect x="221.50" y="465.41" width="6.3" height="2.12" fill="none" stroke="#9ad29a" stroke-width="1"/>
<rect x="221.50" y="470.40" width="6.3" height="2.12" fill="none" stroke="#ef9a9c" stroke-width="1"/>
<clipPath id="c18"><rect x="259.5" y="452.5" width="108.0" height="85.5"/></clipPath>
<g clip-path="url(#c18)"><polyline points="266.5,537.5 266.5,523.6 269.0,523.6 269.0,525.3 271.5,525.3 271.5,520.2 274.1,520.2 274.1,513.5 275.7,513.5 275.7,505.2 277.4,505.2 277.4,491.8 279.1,491.8 279.1,476.8 280.7,476.8 280.7,466.7 283.2,466.7 283.2,460.0 285.8,460.0 285.8,460.0 287.4,460.0 287.4,465.1 289.1,465.1 289.1,471.7 290.8,471.7 290.8,480.1 293.3,480.1 293.3,491.8 295.8,491.8 295.8,500.2 298.3,500.2 298.3,506.9 300.8,506.9 300.8,511.9 304.2,511.9 304.2,516.9 307.5,516.9 307.5,521.9 310.8,521.9 310.8,526.9 314.2,526.9 314.2,529.9 319.0,529.9 319.0,532.3" fill="none" stroke="#94bfe1" stroke-width="1.10" stroke-linejoin="miter"/><polyline points="319.0,532.3 320.0,532.9 328.6,534.4 362.9,537.8" fill="none" stroke="#94bfe1" stroke-width="1.10" stroke-linejoin="miter"/><polyline points="266.5,537.5 266.5,520.2 269.0,520.2 269.0,518.6 270.7,518.6 270.7,511.9 272.4,511.9 272.4,508.5 274.1,508.5 274.1,501.8 275.7,501.8 275.7,486.8 277.4,486.8 277.4,471.7 279.1,471.7 279.1,468.4 280.7,468.4 280.7,463.4 282.4,463.4 282.4,461.7 284.1,461.7 284.1,460.0 285.8,460.0 285.8,461.7 287.4,461.7 287.4,465.1 289.1,465.1 289.1,476.8 290.8,476.8 290.8,486.8 292.4,486.8 292.4,493.5 294.1,493.5 294.1,500.2 295.8,500.2 295.8,505.2 298.3,505.2 298.3,510.2 300.8,510.2 300.8,514.4 304.2,514.4 304.2,520.2 307.5,520.2 307.5,525.3 310.8,525.3 310.8,528.6 314.2,528.6 314.2,531.1 319.0,531.1 319.0,532.8" fill="none" stroke="#ffbf88" stroke-width="1.10" stroke-linejoin="miter"/><polyline points="319.0,532.8 328.6,535.0 362.9,537.8" fill="none" stroke="#ffbf88" stroke-width="1.10" stroke-linejoin="miter"/><rect x="264.0" y="475.3" width="2.1" height="62.2" fill="#ffbf88"/><polyline points="266.5,537.5 266.5,521.9 268.2,521.9 268.2,523.6 269.9,523.6 269.9,518.6 271.5,518.6 271.5,516.9 273.2,516.9 273.2,508.5 274.9,508.5 274.9,498.5 276.6,498.5 276.6,486.8 278.2,486.8 278.2,475.1 279.9,475.1 279.9,466.7 281.6,466.7 281.6,463.4 283.2,463.4 283.2,460.9 284.9,460.9 284.9,459.2 286.6,459.2 286.6,460.0 288.3,460.0 288.3,465.1 289.9,465.1 289.9,475.1 291.6,475.1 291.6,483.4 293.3,483.4 293.3,493.5 295.0,493.5 295.0,500.2 296.6,500.2 296.6,505.2 299.1,505.2 299.1,510.2 301.6,510.2 301.6,513.5 304.2,513.5 304.2,516.9 307.5,516.9 307.5,523.6 310.8,523.6 310.8,527.8 314.2,527.8 314.2,530.3 319.0,530.3 319.0,532.8" fill="none" stroke="#9ad29a" stroke-width="1.10" stroke-linejoin="miter"/><polyline points="319.0,532.8 324.3,533.9 362.9,537.8" fill="none" stroke="#9ad29a" stroke-width="1.10" stroke-linejoin="miter"/><rect x="264.0" y="479.1" width="2.1" height="58.4" fill="#9ad29a"/><polyline points="266.5,537.5 266.5,526.9 268.2,526.9 268.2,528.6 269.9,528.6 269.9,527.8 271.5,527.8 271.5,523.6 273.2,523.6 273.2,520.2 274.9,520.2 274.9,513.5 276.6,513.5 276.6,505.2 278.2,505.2 278.2,498.5 279.1,498.5 279.1,483.4 280.7,483.4 280.7,470.1 282.4,470.1 282.4,456.7 284.1,456.7 284.1,456.7 285.8,456.7 285.8,458.4 287.4,458.4 287.4,463.4 289.1,463.4 289.1,468.4 290.8,468.4 290.8,475.1 292.4,475.1 292.4,481.8 294.1,481.8 294.1,488.5 295.8,488.5 295.8,495.2 297.5,495.2 297.5,500.2 299.1,500.2 299.1,503.5 300.8,503.5 300.8,508.5 302.5,508.5 302.5,511.9 304.2,511.9 304.2,514.4 305.8,514.4 305.8,516.9 307.5,516.9 307.5,520.2 309.2,520.2 309.2,523.6 311.7,523.6 311.7,526.9 314.2,526.9 314.2,529.4 319.0,529.4 319.0,531.9" fill="none" stroke="#ef9a9c" stroke-width="1.10" stroke-linejoin="miter"/><polyline points="319.0,531.9 322.2,532.9 328.6,534.4 337.2,535.7 350.1,536.5 362.9,537.8" fill="none" stroke="#ef9a9c" stroke-width="1.10" stroke-linejoin="miter"/><rect x="264.0" y="481.9" width="2.1" height="55.6" fill="#ef9a9c"/></g>
<rect x="259.5" y="452.5" width="108.0" height="85.0" fill="none" stroke="#a3a3a3" stroke-width="1"/>
<line x1="264.5" y1="538.0" x2="264.5" y2="539.7" stroke="#b5b5b5" stroke-width="1"/>
<line x1="280.5" y1="538.0" x2="280.5" y2="539.7" stroke="#b5b5b5" stroke-width="1"/>
<line x1="296.5" y1="538.0" x2="296.5" y2="539.7" stroke="#b5b5b5" stroke-width="1"/>
<line x1="312.5" y1="538.0" x2="312.5" y2="539.7" stroke="#b5b5b5" stroke-width="1"/>
<line x1="328.5" y1="538.0" x2="328.5" y2="539.7" stroke="#b5b5b5" stroke-width="1"/>
<line x1="344.5" y1="538.0" x2="344.5" y2="539.7" stroke="#b5b5b5" stroke-width="1"/>
<line x1="360.5" y1="538.0" x2="360.5" y2="539.7" stroke="#b5b5b5" stroke-width="1"/>
<line x1="257.3" y1="537.5" x2="259.0" y2="537.5" stroke="#b5b5b5" stroke-width="1"/>
<line x1="257.3" y1="519.5" x2="259.0" y2="519.5" stroke="#b5b5b5" stroke-width="1"/>
<line x1="257.3" y1="502.5" x2="259.0" y2="502.5" stroke="#b5b5b5" stroke-width="1"/>
<line x1="257.3" y1="484.5" x2="259.0" y2="484.5" stroke="#b5b5b5" stroke-width="1"/>
<line x1="257.3" y1="467.5" x2="259.0" y2="467.5" stroke="#b5b5b5" stroke-width="1"/>
<rect x="341.6" y="453.6" width="23.9" height="20.7" rx="0.6" fill="#fff" fill-opacity="0.8" stroke="#e4e4e4" stroke-width="0.5"/>
<rect x="343.50" y="455.45" width="6.3" height="2.09" fill="none" stroke="#94bfe1" stroke-width="1"/>
<rect x="343.50" y="460.38" width="6.3" height="2.09" fill="none" stroke="#ffbf88" stroke-width="1"/>
<rect x="343.50" y="465.31" width="6.3" height="2.09" fill="none" stroke="#9ad29a" stroke-width="1"/>
<rect x="343.50" y="470.25" width="6.3" height="2.09" fill="none" stroke="#ef9a9c" stroke-width="1"/>
<g class="t"><text x="28.6" y="86.2" text-anchor="middle" style="font-size:3.14px">0.00</text>
<text x="46.9" y="86.2" text-anchor="middle" style="font-size:3.14px">0.02</text>
<text x="65.2" y="86.2" text-anchor="middle" style="font-size:3.14px">0.04</text>
<text x="83.5" y="86.2" text-anchor="middle" style="font-size:3.14px">0.06</text>
<text x="101.8" y="86.2" text-anchor="middle" style="font-size:3.14px">0.08</text>
<text x="120.1" y="86.2" text-anchor="middle" style="font-size:3.14px">0.10</text>
<text x="22.0" y="83.5" text-anchor="end" style="font-size:3.14px">0</text>
<text x="22.0" y="70.2" text-anchor="end" style="font-size:3.14px">20000</text>
<text x="22.0" y="56.8" text-anchor="end" style="font-size:3.14px">40000</text>
<text x="22.0" y="43.5" text-anchor="end" style="font-size:3.14px">60000</text>
<text x="22.0" y="30.1" text-anchor="end" style="font-size:3.14px">80000</text>
<text x="22.0" y="16.8" text-anchor="end" style="font-size:3.14px">100000</text>
<text x="113.4" y="10.80" style="font-size:3.14px;font-weight:normal;fill:#3a3a3a">cats-1</text>
<text x="113.4" y="15.21" style="font-size:3.14px;font-weight:normal;fill:#3a3a3a">dogs-1</text>
<text x="113.4" y="19.62" style="font-size:3.14px;font-weight:normal;fill:#3a3a3a">cars-1</text>
<text x="113.4" y="24.02" style="font-size:3.14px;font-weight:normal;fill:#3a3a3a">all-1</text>
<text x="145.0" y="86.9" text-anchor="middle" style="font-size:3.14px">0.00</text>
<text x="163.6" y="86.9" text-anchor="middle" style="font-size:3.14px">0.02</text>
<text x="182.1" y="86.9" text-anchor="middle" style="font-size:3.14px">0.04</text>
<text x="200.7" y="86.9" text-anchor="middle" style="font-size:3.14px">0.06</text>
<text x="219.2" y="86.9" text-anchor="middle" style="font-size:3.14px">0.08</text>
<text x="237.8" y="86.9" text-anchor="middle" style="font-size:3.14px">0.10</text>
<text x="138.0" y="83.5" text-anchor="end" style="font-size:3.14px">0</text>
<text x="138.0" y="74.2" text-anchor="end" style="font-size:3.14px">10000</text>
<text x="138.0" y="64.8" text-anchor="end" style="font-size:3.14px">20000</text>
<text x="138.0" y="55.5" text-anchor="end" style="font-size:3.14px">30000</text>
<text x="138.0" y="46.2" text-anchor="end" style="font-size:3.14px">40000</text>
<text x="138.0" y="36.9" text-anchor="end" style="font-size:3.14px">50000</text>
<text x="138.0" y="27.5" text-anchor="end" style="font-size:3.14px">60000</text>
<text x="138.0" y="18.2" text-anchor="end" style="font-size:3.14px">70000</text>
<text x="138.0" y="8.9" text-anchor="end" style="font-size:3.14px">80000</text>
<text x="229.4" y="10.80" style="font-size:3.14px;font-weight:normal;fill:#3a3a3a">cats-2</text>
<text x="229.4" y="15.21" style="font-size:3.14px;font-weight:normal;fill:#3a3a3a">dogs-2</text>
<text x="229.4" y="19.62" style="font-size:3.14px;font-weight:normal;fill:#3a3a3a">cars-2</text>
<text x="229.4" y="24.02" style="font-size:3.14px;font-weight:normal;fill:#3a3a3a">all-2</text>
<text x="263.7" y="86.5" text-anchor="middle" style="font-size:3.14px">0.00</text>
<text x="282.2" y="86.5" text-anchor="middle" style="font-size:3.14px">0.02</text>
<text x="300.7" y="86.5" text-anchor="middle" style="font-size:3.14px">0.04</text>
<text x="319.2" y="86.5" text-anchor="middle" style="font-size:3.14px">0.06</text>
<text x="337.7" y="86.5" text-anchor="middle" style="font-size:3.14px">0.08</text>
<text x="356.2" y="86.5" text-anchor="middle" style="font-size:3.14px">0.10</text>
<text x="257.0" y="83.5" text-anchor="end" style="font-size:3.14px">0</text>
<text x="257.0" y="70.4" text-anchor="end" style="font-size:3.14px">20000</text>
<text x="257.0" y="57.3" text-anchor="end" style="font-size:3.14px">40000</text>
<text x="257.0" y="44.2" text-anchor="end" style="font-size:3.14px">60000</text>
<text x="257.0" y="31.1" text-anchor="end" style="font-size:3.14px">80000</text>
<text x="257.0" y="18.0" text-anchor="end" style="font-size:3.14px">100000</text>
<text x="347.4" y="10.80" style="font-size:3.14px;font-weight:normal;fill:#3a3a3a">cats-3</text>
<text x="347.4" y="15.21" style="font-size:3.14px;font-weight:normal;fill:#3a3a3a">dogs-3</text>
<text x="347.4" y="19.62" style="font-size:3.14px;font-weight:normal;fill:#3a3a3a">cars-3</text>
<text x="347.4" y="24.02" style="font-size:3.14px;font-weight:normal;fill:#3a3a3a">all-3</text>
<text x="28.6" y="171.3" text-anchor="middle" style="font-size:3.17px">0.00</text>
<text x="47.2" y="171.3" text-anchor="middle" style="font-size:3.17px">0.02</text>
<text x="65.8" y="171.3" text-anchor="middle" style="font-size:3.17px">0.04</text>
<text x="84.4" y="171.3" text-anchor="middle" style="font-size:3.17px">0.06</text>
<text x="103.0" y="171.3" text-anchor="middle" style="font-size:3.17px">0.08</text>
<text x="121.6" y="171.3" text-anchor="middle" style="font-size:3.17px">0.10</text>
<text x="22.0" y="168.7" text-anchor="end" style="font-size:3.17px">0</text>
<text x="22.0" y="158.5" text-anchor="end" style="font-size:3.17px">2500</text>
<text x="22.0" y="148.2" text-anchor="end" style="font-size:3.17px">5000</text>
<text x="22.0" y="138.0" text-anchor="end" style="font-size:3.17px">7500</text>
<text x="22.0" y="127.7" text-anchor="end" style="font-size:3.17px">10000</text>
<text x="22.0" y="117.5" text-anchor="end" style="font-size:3.17px">12500</text>
<text x="22.0" y="107.2" text-anchor="end" style="font-size:3.17px">15000</text>
<text x="22.0" y="97.0" text-anchor="end" style="font-size:3.17px">17500</text>
<text x="112.4" y="96.80" style="font-size:3.17px;font-weight:normal;fill:#3a3a3a">cats-4</text>
<text x="112.4" y="101.15" style="font-size:3.17px;font-weight:normal;fill:#3a3a3a">dogs-4</text>
<text x="112.4" y="105.50" style="font-size:3.17px;font-weight:normal;fill:#3a3a3a">cars-4</text>
<text x="112.4" y="109.85" style="font-size:3.17px;font-weight:normal;fill:#3a3a3a">all-4</text>
<text x="143.6" y="172.1" text-anchor="middle" style="font-size:3.17px">0.00</text>
<text x="162.4" y="172.1" text-anchor="middle" style="font-size:3.17px">0.02</text>
<text x="181.3" y="172.1" text-anchor="middle" style="font-size:3.17px">0.04</text>
<text x="200.2" y="172.1" text-anchor="middle" style="font-size:3.17px">0.06</text>
<text x="219.0" y="172.1" text-anchor="middle" style="font-size:3.17px">0.08</text>
<text x="237.8" y="172.1" text-anchor="middle" style="font-size:3.17px">0.10</text>
<text x="137.0" y="168.7" text-anchor="end" style="font-size:3.17px">0</text>
<text x="137.0" y="158.7" text-anchor="end" style="font-size:3.17px">10000</text>
<text x="137.0" y="148.7" text-anchor="end" style="font-size:3.17px">20000</text>
<text x="137.0" y="138.7" text-anchor="end" style="font-size:3.17px">30000</text>
<text x="137.0" y="128.6" text-anchor="end" style="font-size:3.17px">40000</text>
<text x="137.0" y="118.6" text-anchor="end" style="font-size:3.17px">50000</text>
<text x="137.0" y="108.6" text-anchor="end" style="font-size:3.17px">60000</text>
<text x="137.0" y="98.6" text-anchor="end" style="font-size:3.17px">70000</text>
<text x="230.4" y="95.80" style="font-size:3.17px;font-weight:normal;fill:#3a3a3a">cats-5</text>
<text x="230.4" y="100.21" style="font-size:3.17px;font-weight:normal;fill:#3a3a3a">dogs-5</text>
<text x="230.4" y="104.62" style="font-size:3.17px;font-weight:normal;fill:#3a3a3a">cars-5</text>
<text x="230.4" y="109.02" style="font-size:3.17px;font-weight:normal;fill:#3a3a3a">all-5</text>
<text x="262.9" y="171.1" text-anchor="middle" style="font-size:3.17px">0.00</text>
<text x="281.7" y="171.1" text-anchor="middle" style="font-size:3.17px">0.02</text>
<text x="300.5" y="171.1" text-anchor="middle" style="font-size:3.17px">0.04</text>
<text x="319.3" y="171.1" text-anchor="middle" style="font-size:3.17px">0.06</text>
<text x="338.1" y="171.1" text-anchor="middle" style="font-size:3.17px">0.08</text>
<text x="356.9" y="171.1" text-anchor="middle" style="font-size:3.17px">0.10</text>
<text x="256.0" y="168.7" text-anchor="end" style="font-size:3.17px">0</text>
<text x="256.0" y="151.7" text-anchor="end" style="font-size:3.17px">10000</text>
<text x="256.0" y="134.7" text-anchor="end" style="font-size:3.17px">20000</text>
<text x="256.0" y="117.7" text-anchor="end" style="font-size:3.17px">30000</text>
<text x="256.0" y="100.7" text-anchor="end" style="font-size:3.17px">40000</text>
<text x="348.4" y="94.80" style="font-size:3.17px;font-weight:normal;fill:#3a3a3a">cats-6</text>
<text x="348.4" y="99.27" style="font-size:3.17px;font-weight:normal;fill:#3a3a3a">dogs-6</text>
<text x="348.4" y="103.73" style="font-size:3.17px;font-weight:normal;fill:#3a3a3a">cars-6</text>
<text x="348.4" y="108.20" style="font-size:3.17px;font-weight:normal;fill:#3a3a3a">all-6</text>
<text x="23.1" y="259.3" text-anchor="middle" style="font-size:3.27px">0.00</text>
<text x="42.1" y="259.3" text-anchor="middle" style="font-size:3.27px">0.02</text>
<text x="61.1" y="259.3" text-anchor="middle" style="font-size:3.27px">0.04</text>
<text x="80.1" y="259.3" text-anchor="middle" style="font-size:3.27px">0.06</text>
<text x="99.1" y="259.3" text-anchor="middle" style="font-size:3.27px">0.08</text>
<text x="118.1" y="259.3" text-anchor="middle" style="font-size:3.27px">0.10</text>
<text x="16.0" y="256.7" text-anchor="end" style="font-size:3.27px">0</text>
<text x="16.0" y="245.7" text-anchor="end" style="font-size:3.27px">5000</text>
<text x="16.0" y="234.6" text-anchor="end" style="font-size:3.27px">10000</text>
<text x="16.0" y="223.6" text-anchor="end" style="font-size:3.27px">15000</text>
<text x="16.0" y="212.5" text-anchor="end" style="font-size:3.27px">20000</text>
<text x="16.0" y="201.5" text-anchor="end" style="font-size:3.27px">25000</text>
<text x="16.0" y="190.4" text-anchor="end" style="font-size:3.27px">30000</text>
<text x="16.0" y="179.4" text-anchor="end" style="font-size:3.27px">35000</text>
<text x="110.4" y="181.80" style="font-size:3.27px;font-weight:normal;fill:#3a3a3a">cats-7</text>
<text x="110.4" y="186.32" style="font-size:3.27px;font-weight:normal;fill:#3a3a3a">dogs-7</text>
<text x="110.4" y="190.85" style="font-size:3.27px;font-weight:normal;fill:#3a3a3a">cars-7</text>
<text x="110.4" y="195.37" style="font-size:3.27px;font-weight:normal;fill:#3a3a3a">all-7</text>
<text x="141.6" y="261.2" text-anchor="middle" style="font-size:3.27px">0.00</text>
<text x="160.9" y="261.2" text-anchor="middle" style="font-size:3.27px">0.02</text>
<text x="180.2" y="261.2" text-anchor="middle" style="font-size:3.27px">0.04</text>
<text x="199.5" y="261.2" text-anchor="middle" style="font-size:3.27px">0.06</text>
<text x="218.8" y="261.2" text-anchor="middle" style="font-size:3.27px">0.08</text>
<text x="238.1" y="261.2" text-anchor="middle" style="font-size:3.27px">0.10</text>
<text x="133.0" y="258.7" text-anchor="end" style="font-size:3.27px">0</text>
<text x="133.0" y="246.7" text-anchor="end" style="font-size:3.27px">1000</text>
<text x="133.0" y="234.7" text-anchor="end" style="font-size:3.27px">2000</text>
<text x="133.0" y="222.6" text-anchor="end" style="font-size:3.27px">3000</text>
<text x="133.0" y="210.6" text-anchor="end" style="font-size:3.27px">4000</text>
<text x="133.0" y="198.6" text-anchor="end" style="font-size:3.27px">5000</text>
<text x="133.0" y="186.6" text-anchor="end" style="font-size:3.27px">6000</text>
<text x="230.4" y="181.80" style="font-size:3.27px;font-weight:normal;fill:#3a3a3a">cats-8</text>
<text x="230.4" y="186.44" style="font-size:3.27px;font-weight:normal;fill:#3a3a3a">dogs-8</text>
<text x="230.4" y="191.08" style="font-size:3.27px;font-weight:normal;fill:#3a3a3a">cars-8</text>
<text x="230.4" y="195.72" style="font-size:3.27px;font-weight:normal;fill:#3a3a3a">all-8</text>
<text x="263.4" y="261.0" text-anchor="middle" style="font-size:3.27px">0.00</text>
<text x="282.8" y="261.0" text-anchor="middle" style="font-size:3.27px">0.01</text>
<text x="302.2" y="261.0" text-anchor="middle" style="font-size:3.27px">0.02</text>
<text x="321.6" y="261.0" text-anchor="middle" style="font-size:3.27px">0.03</text>
<text x="341.0" y="261.0" text-anchor="middle" style="font-size:3.27px">0.04</text>
<text x="360.4" y="261.0" text-anchor="middle" style="font-size:3.27px">0.05</text>
<text x="256.0" y="257.7" text-anchor="end" style="font-size:3.27px">0</text>
<text x="256.0" y="244.9" text-anchor="end" style="font-size:3.27px">2000</text>
<text x="256.0" y="232.2" text-anchor="end" style="font-size:3.27px">4000</text>
<text x="256.0" y="219.4" text-anchor="end" style="font-size:3.27px">6000</text>
<text x="256.0" y="206.7" text-anchor="end" style="font-size:3.27px">8000</text>
<text x="256.0" y="193.9" text-anchor="end" style="font-size:3.27px">10000</text>
<text x="256.0" y="181.2" text-anchor="end" style="font-size:3.27px">12000</text>
<text x="353.4" y="181.80" style="font-size:3.27px;font-weight:normal;fill:#3a3a3a">cats-9</text>
<text x="353.4" y="186.38" style="font-size:3.27px;font-weight:normal;fill:#3a3a3a">dogs-9</text>
<text x="353.4" y="190.96" style="font-size:3.27px;font-weight:normal;fill:#3a3a3a">cars-9</text>
<text x="353.4" y="195.55" style="font-size:3.27px;font-weight:normal;fill:#3a3a3a">all-9</text>
<text x="23.4" y="352.0" text-anchor="middle" style="font-size:3.30px">0.00</text>
<text x="42.7" y="352.0" text-anchor="middle" style="font-size:3.30px">0.01</text>
<text x="62.0" y="352.0" text-anchor="middle" style="font-size:3.30px">0.02</text>
<text x="81.3" y="352.0" text-anchor="middle" style="font-size:3.30px">0.03</text>
<text x="100.6" y="352.0" text-anchor="middle" style="font-size:3.30px">0.04</text>
<text x="119.9" y="352.0" text-anchor="middle" style="font-size:3.30px">0.05</text>
<text x="16.0" y="348.7" text-anchor="end" style="font-size:3.30px">0</text>
<text x="16.0" y="334.8" text-anchor="end" style="font-size:3.30px">2000</text>
<text x="16.0" y="320.9" text-anchor="end" style="font-size:3.30px">4000</text>
<text x="16.0" y="307.0" text-anchor="end" style="font-size:3.30px">6000</text>
<text x="16.0" y="293.1" text-anchor="end" style="font-size:3.30px">8000</text>
<text x="16.0" y="279.2" text-anchor="end" style="font-size:3.30px">10000</text>
<text x="109.7" y="272.80" style="font-size:3.30px;font-weight:normal;fill:#3a3a3a">cats-10</text>
<text x="109.7" y="277.38" style="font-size:3.30px;font-weight:normal;fill:#3a3a3a">dogs-10</text>
<text x="109.7" y="281.96" style="font-size:3.30px;font-weight:normal;fill:#3a3a3a">cars-10</text>
<text x="109.7" y="286.55" style="font-size:3.30px;font-weight:normal;fill:#3a3a3a">all-10</text>
<text x="143.0" y="351.7" text-anchor="middle" style="font-size:3.30px">0.000</text>
<text x="159.1" y="351.7" text-anchor="middle" style="font-size:3.30px">0.005</text>
<text x="175.2" y="351.7" text-anchor="middle" style="font-size:3.30px">0.010</text>
<text x="191.3" y="351.7" text-anchor="middle" style="font-size:3.30px">0.015</text>
<text x="207.4" y="351.7" text-anchor="middle" style="font-size:3.30px">0.020</text>
<text x="223.5" y="351.7" text-anchor="middle" style="font-size:3.30px">0.025</text>
<text x="239.6" y="351.7" text-anchor="middle" style="font-size:3.30px">0.030</text>
<text x="136.0" y="348.7" text-anchor="end" style="font-size:3.30px">0</text>
<text x="136.0" y="332.7" text-anchor="end" style="font-size:3.30px">2000</text>
<text x="136.0" y="316.8" text-anchor="end" style="font-size:3.30px">4000</text>
<text x="136.0" y="300.8" text-anchor="end" style="font-size:3.30px">6000</text>
<text x="136.0" y="284.8" text-anchor="end" style="font-size:3.30px">8000</text>
<text x="229.7" y="271.80" style="font-size:3.30px;font-weight:normal;fill:#3a3a3a">cats-11</text>
<text x="229.7" y="276.44" style="font-size:3.30px;font-weight:normal;fill:#3a3a3a">dogs-11</text>
<text x="229.7" y="281.08" style="font-size:3.30px;font-weight:normal;fill:#3a3a3a">cars-11</text>
<text x="229.7" y="285.72" style="font-size:3.30px;font-weight:normal;fill:#3a3a3a">all-11</text>
<text x="261.9" y="350.3" text-anchor="middle" style="font-size:3.30px">0.000</text>
<text x="278.3" y="350.3" text-anchor="middle" style="font-size:3.30px">0.005</text>
<text x="294.7" y="350.3" text-anchor="middle" style="font-size:3.30px">0.010</text>
<text x="311.1" y="350.3" text-anchor="middle" style="font-size:3.30px">0.015</text>
<text x="327.5" y="350.3" text-anchor="middle" style="font-size:3.30px">0.020</text>
<text x="343.9" y="350.3" text-anchor="middle" style="font-size:3.30px">0.025</text>
<text x="360.3" y="350.3" text-anchor="middle" style="font-size:3.30px">0.030</text>
<text x="255.0" y="347.7" text-anchor="end" style="font-size:3.30px">0</text>
<text x="255.0" y="338.2" text-anchor="end" style="font-size:3.30px">1000</text>
<text x="255.0" y="328.7" text-anchor="end" style="font-size:3.30px">2000</text>
<text x="255.0" y="319.1" text-anchor="end" style="font-size:3.30px">3000</text>
<text x="255.0" y="309.6" text-anchor="end" style="font-size:3.30px">4000</text>
<text x="255.0" y="300.1" text-anchor="end" style="font-size:3.30px">5000</text>
<text x="255.0" y="290.6" text-anchor="end" style="font-size:3.30px">6000</text>
<text x="255.0" y="281.0" text-anchor="end" style="font-size:3.30px">7000</text>
<text x="255.0" y="271.5" text-anchor="end" style="font-size:3.30px">8000</text>
<text x="350.7" y="269.80" style="font-size:3.30px;font-weight:normal;fill:#3a3a3a">cats-12</text>
<text x="350.7" y="274.50" style="font-size:3.30px;font-weight:normal;fill:#3a3a3a">dogs-12</text>
<text x="350.7" y="279.20" style="font-size:3.30px;font-weight:normal;fill:#3a3a3a">cars-12</text>
<text x="350.7" y="283.89" style="font-size:3.30px;font-weight:normal;fill:#3a3a3a">all-12</text>
<text x="19.3" y="446.5" text-anchor="middle" style="font-size:3.33px">0.00</text>
<text x="39.0" y="446.5" text-anchor="middle" style="font-size:3.33px">0.01</text>
<text x="58.7" y="446.5" text-anchor="middle" style="font-size:3.33px">0.02</text>
<text x="78.4" y="446.5" text-anchor="middle" style="font-size:3.33px">0.03</text>
<text x="98.1" y="446.5" text-anchor="middle" style="font-size:3.33px">0.04</text>
<text x="117.8" y="446.5" text-anchor="middle" style="font-size:3.33px">0.05</text>
<text x="12.0" y="442.1" text-anchor="end" style="font-size:3.33px">0</text>
<text x="12.0" y="423.7" text-anchor="end" style="font-size:3.33px">2000</text>
<text x="12.0" y="405.3" text-anchor="end" style="font-size:3.33px">4000</text>
<text x="12.0" y="386.9" text-anchor="end" style="font-size:3.33px">6000</text>
<text x="12.0" y="368.5" text-anchor="end" style="font-size:3.33px">8000</text>
<text x="107.7" y="359.80" style="font-size:3.33px;font-weight:normal;fill:#3a3a3a">cats-13</text>
<text x="107.7" y="364.79" style="font-size:3.33px;font-weight:normal;fill:#3a3a3a">dogs-13</text>
<text x="107.7" y="369.78" style="font-size:3.33px;font-weight:normal;fill:#3a3a3a">cars-13</text>
<text x="107.7" y="374.76" style="font-size:3.33px;font-weight:normal;fill:#3a3a3a">all-13</text>
<text x="142.6" y="447.0" text-anchor="middle" style="font-size:3.33px">0.00</text>
<text x="161.9" y="447.0" text-anchor="middle" style="font-size:3.33px">0.02</text>
<text x="181.3" y="447.0" text-anchor="middle" style="font-size:3.33px">0.04</text>
<text x="200.7" y="447.0" text-anchor="middle" style="font-size:3.33px">0.06</text>
<text x="220.0" y="447.0" text-anchor="middle" style="font-size:3.33px">0.08</text>
<text x="239.3" y="447.0" text-anchor="middle" style="font-size:3.33px">0.10</text>
<text x="135.0" y="443.1" text-anchor="end" style="font-size:3.33px">0</text>
<text x="135.0" y="428.7" text-anchor="end" style="font-size:3.33px">500</text>
<text x="135.0" y="414.2" text-anchor="end" style="font-size:3.33px">1000</text>
<text x="135.0" y="399.8" text-anchor="end" style="font-size:3.33px">1500</text>
<text x="135.0" y="385.3" text-anchor="end" style="font-size:3.33px">2000</text>
<text x="135.0" y="370.9" text-anchor="end" style="font-size:3.33px">2500</text>
<text x="229.7" y="361.80" style="font-size:3.33px;font-weight:normal;fill:#3a3a3a">cats-14</text>
<text x="229.7" y="366.73" style="font-size:3.33px;font-weight:normal;fill:#3a3a3a">dogs-14</text>
<text x="229.7" y="371.66" style="font-size:3.33px;font-weight:normal;fill:#3a3a3a">cars-14</text>
<text x="229.7" y="376.59" style="font-size:3.33px;font-weight:normal;fill:#3a3a3a">all-14</text>
<text x="264.3" y="445.7" text-anchor="middle" style="font-size:3.33px">0.000</text>
<text x="280.1" y="445.7" text-anchor="middle" style="font-size:3.33px">0.005</text>
<text x="295.9" y="445.7" text-anchor="middle" style="font-size:3.33px">0.010</text>
<text x="311.7" y="445.7" text-anchor="middle" style="font-size:3.33px">0.015</text>
<text x="327.5" y="445.7" text-anchor="middle" style="font-size:3.33px">0.020</text>
<text x="343.3" y="445.7" text-anchor="middle" style="font-size:3.33px">0.025</text>
<text x="359.1" y="445.7" text-anchor="middle" style="font-size:3.33px">0.030</text>
<text x="257.0" y="441.1" text-anchor="end" style="font-size:3.33px">0</text>
<text x="257.0" y="426.3" text-anchor="end" style="font-size:3.33px">1000</text>
<text x="257.0" y="411.5" text-anchor="end" style="font-size:3.33px">2000</text>
<text x="257.0" y="396.8" text-anchor="end" style="font-size:3.33px">3000</text>
<text x="257.0" y="382.0" text-anchor="end" style="font-size:3.33px">4000</text>
<text x="257.0" y="367.2" text-anchor="end" style="font-size:3.33px">5000</text>
<text x="349.7" y="361.80" style="font-size:3.33px;font-weight:normal;fill:#3a3a3a">cats-15</text>
<text x="349.7" y="366.61" style="font-size:3.33px;font-weight:normal;fill:#3a3a3a">dogs-15</text>
<text x="349.7" y="371.43" style="font-size:3.33px;font-weight:normal;fill:#3a3a3a">cars-15</text>
<text x="349.7" y="376.24" style="font-size:3.33px;font-weight:normal;fill:#3a3a3a">all-15</text>
<text x="19.3" y="544.9" text-anchor="middle" style="font-size:3.33px">0.000</text>
<text x="35.6" y="544.9" text-anchor="middle" style="font-size:3.33px">0.005</text>
<text x="51.9" y="544.9" text-anchor="middle" style="font-size:3.33px">0.010</text>
<text x="68.2" y="544.9" text-anchor="middle" style="font-size:3.33px">0.015</text>
<text x="84.5" y="544.9" text-anchor="middle" style="font-size:3.33px">0.020</text>
<text x="100.8" y="544.9" text-anchor="middle" style="font-size:3.33px">0.025</text>
<text x="117.1" y="544.9" text-anchor="middle" style="font-size:3.33px">0.030</text>
<text x="12.0" y="541.1" text-anchor="end" style="font-size:3.33px">0</text>
<text x="12.0" y="526.4" text-anchor="end" style="font-size:3.33px">1000</text>
<text x="12.0" y="511.8" text-anchor="end" style="font-size:3.33px">2000</text>
<text x="12.0" y="497.1" text-anchor="end" style="font-size:3.33px">3000</text>
<text x="12.0" y="482.5" text-anchor="end" style="font-size:3.33px">4000</text>
<text x="12.0" y="467.8" text-anchor="end" style="font-size:3.33px">5000</text>
<text x="106.7" y="458.80" style="font-size:3.33px;font-weight:normal;fill:#3a3a3a">cats-16</text>
<text x="106.7" y="463.79" style="font-size:3.33px;font-weight:normal;fill:#3a3a3a">dogs-16</text>
<text x="106.7" y="468.78" style="font-size:3.33px;font-weight:normal;fill:#3a3a3a">cars-16</text>
<text x="106.7" y="473.76" style="font-size:3.33px;font-weight:normal;fill:#3a3a3a">all-16</text>
<text x="142.5" y="544.3" text-anchor="middle" style="font-size:3.33px">0.000</text>
<text x="158.8" y="544.3" text-anchor="middle" style="font-size:3.33px">0.005</text>
<text x="175.2" y="544.3" text-anchor="middle" style="font-size:3.33px">0.010</text>
<text x="191.6" y="544.3" text-anchor="middle" style="font-size:3.33px">0.015</text>
<text x="207.9" y="544.3" text-anchor="middle" style="font-size:3.33px">0.020</text>
<text x="224.2" y="544.3" text-anchor="middle" style="font-size:3.33px">0.025</text>
<text x="240.6" y="544.3" text-anchor="middle" style="font-size:3.33px">0.030</text>
<text x="135.0" y="540.1" text-anchor="end" style="font-size:3.33px">0</text>
<text x="135.0" y="528.7" text-anchor="end" style="font-size:3.33px">1000</text>
<text x="135.0" y="517.4" text-anchor="end" style="font-size:3.33px">2000</text>
<text x="135.0" y="506.0" text-anchor="end" style="font-size:3.33px">3000</text>
<text x="135.0" y="494.6" text-anchor="end" style="font-size:3.33px">4000</text>
<text x="135.0" y="483.2" text-anchor="end" style="font-size:3.33px">5000</text>
<text x="135.0" y="471.9" text-anchor="end" style="font-size:3.33px">6000</text>
<text x="135.0" y="460.5" text-anchor="end" style="font-size:3.33px">7000</text>
<text x="229.7" y="457.80" style="font-size:3.33px;font-weight:normal;fill:#3a3a3a">cats-17</text>
<text x="229.7" y="462.79" style="font-size:3.33px;font-weight:normal;fill:#3a3a3a">dogs-17</text>
<text x="229.7" y="467.78" style="font-size:3.33px;font-weight:normal;fill:#3a3a3a">cars-17</text>
<text x="229.7" y="472.76" style="font-size:3.33px;font-weight:normal;fill:#3a3a3a">all-17</text>
<text x="264.5" y="543.7" text-anchor="middle" style="font-size:3.33px">0.000</text>
<text x="280.6" y="543.7" text-anchor="middle" style="font-size:3.33px">0.005</text>
<text x="296.6" y="543.7" text-anchor="middle" style="font-size:3.33px">0.010</text>
<text x="312.6" y="543.7" text-anchor="middle" style="font-size:3.33px">0.015</text>
<text x="328.7" y="543.7" text-anchor="middle" style="font-size:3.33px">0.020</text>
<text x="344.8" y="543.7" text-anchor="middle" style="font-size:3.33px">0.025</text>
<text x="360.8" y="543.7" text-anchor="middle" style="font-size:3.33px">0.030</text>
<text x="257.0" y="539.1" text-anchor="end" style="font-size:3.33px">0</text>
<text x="257.0" y="521.6" text-anchor="end" style="font-size:3.33px">1000</text>
<text x="257.0" y="504.0" text-anchor="end" style="font-size:3.33px">2000</text>
<text x="257.0" y="486.5" text-anchor="end" style="font-size:3.33px">3000</text>
<text x="257.0" y="469.0" text-anchor="end" style="font-size:3.33px">4000</text>
<text x="351.7" y="457.80" style="font-size:3.33px;font-weight:normal;fill:#3a3a3a">cats-18</text>
<text x="351.7" y="462.73" style="font-size:3.33px;font-weight:normal;fill:#3a3a3a">dogs-18</text>
<text x="351.7" y="467.66" style="font-size:3.33px;font-weight:normal;fill:#3a3a3a">cars-18</text>
<text x="351.7" y="472.59" style="font-size:3.33px;font-weight:normal;fill:#3a3a3a">all-18</text></g>
</svg>
</body></html>
